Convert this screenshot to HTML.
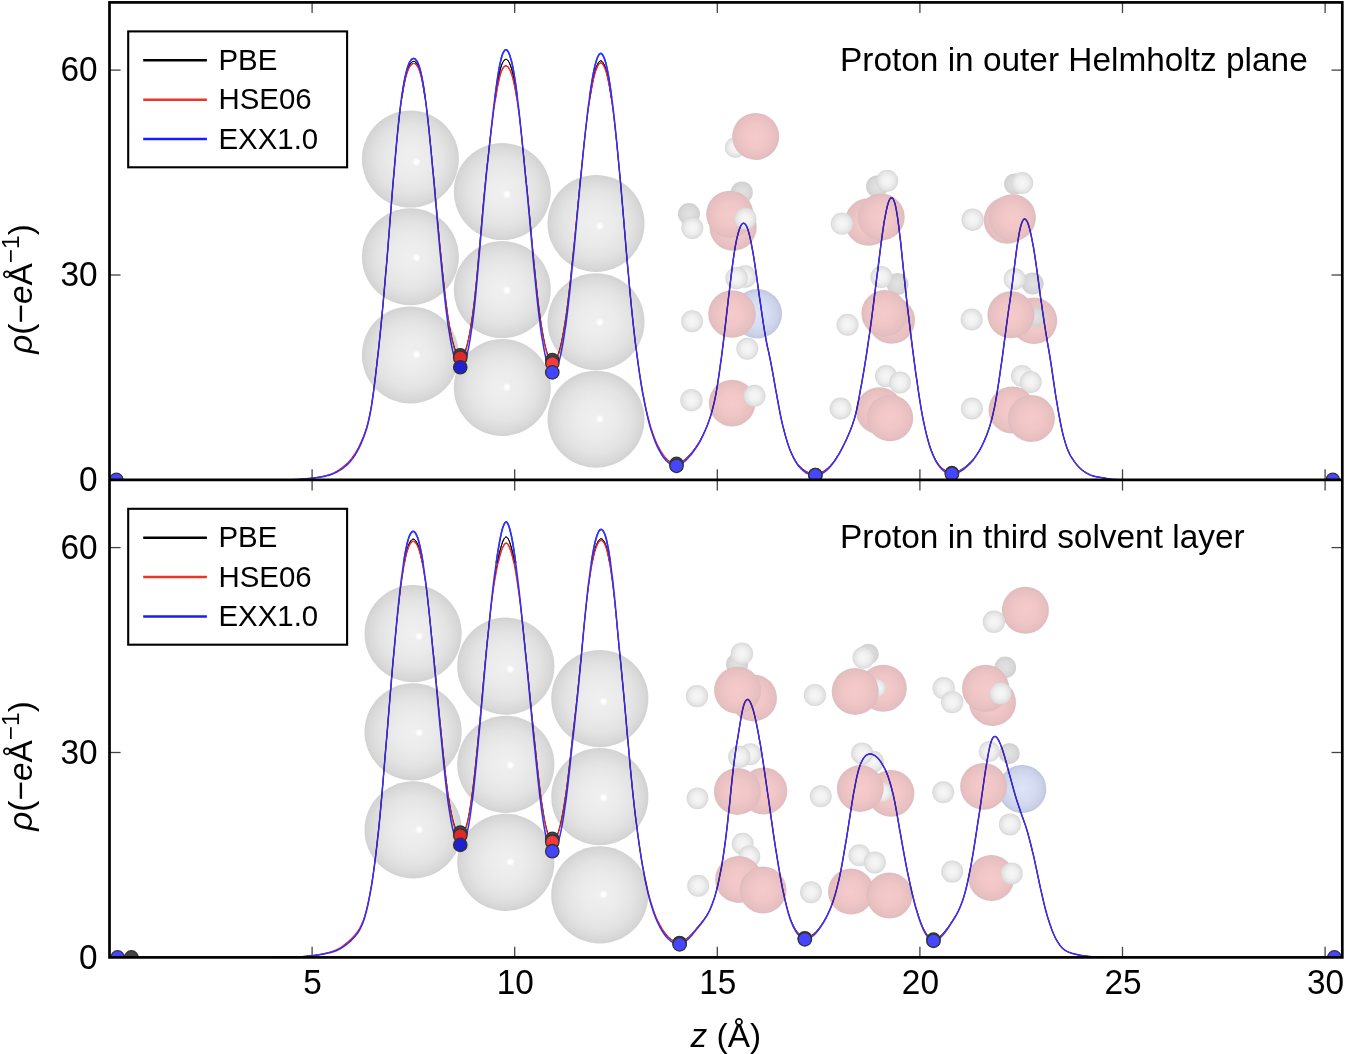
<!DOCTYPE html>
<html><head><meta charset="utf-8"><style>
html,body{margin:0;padding:0;background:#fff;overflow:hidden;}
svg{display:block;will-change:transform;}
text{font-family:"Liberation Sans",sans-serif;fill:#000;}
.mb{mix-blend-mode:multiply;}
</style></head><body>
<svg width="1345" height="1054" viewBox="0 0 1345 1054">
<defs>
<radialGradient id="gM" cx="0.5" cy="0.5" r="0.5">
<stop offset="0" stop-color="#f0f0f1"/>
<stop offset="0.4" stop-color="#ebebec"/>
<stop offset="0.7" stop-color="#e3e3e4"/>
<stop offset="0.9" stop-color="#d9d9da"/>
<stop offset="1" stop-color="#d2d2d3"/>
</radialGradient>
<radialGradient id="gHL" cx="0.5" cy="0.5" r="0.5">
<stop offset="0" stop-color="#ffffff"/>
<stop offset="0.4" stop-color="#ffffff" stop-opacity="0.95"/>
<stop offset="1" stop-color="#ffffff" stop-opacity="0"/>
</radialGradient>
<radialGradient id="gO" cx="0.5" cy="0.5" r="0.5">
<stop offset="0" stop-color="#f5caca"/>
<stop offset="0.5" stop-color="#f0c6c6"/>
<stop offset="0.85" stop-color="#e8c0c1"/>
<stop offset="1" stop-color="#dfbcbe"/>
</radialGradient>
<radialGradient id="gH" cx="0.5" cy="0.5" r="0.5">
<stop offset="0" stop-color="#f7f7f7"/>
<stop offset="0.5" stop-color="#f0f0f0"/>
<stop offset="0.85" stop-color="#e2e2e2"/>
<stop offset="1" stop-color="#d6d6d6"/>
</radialGradient>
<radialGradient id="gHs" cx="0.5" cy="0.5" r="0.5">
<stop offset="0" stop-color="#e2e2e2"/>
<stop offset="0.6" stop-color="#dadada"/>
<stop offset="1" stop-color="#d0d0d0"/>
</radialGradient>
<radialGradient id="gB" cx="0.5" cy="0.5" r="0.5">
<stop offset="0" stop-color="#dde4f8"/>
<stop offset="0.5" stop-color="#d6ddf2"/>
<stop offset="0.85" stop-color="#cbd1e8"/>
<stop offset="1" stop-color="#c0c6de"/>
</radialGradient>
<clipPath id="cTop"><rect x="109.5" y="2.4" width="1232.8" height="477.5"/></clipPath>
<clipPath id="cBot"><rect x="109.5" y="479.9" width="1232.8" height="477.5"/></clipPath>
<clipPath id="cTopHi"><rect x="109.5" y="2.4" width="1232.8" height="95.6"/></clipPath>
<clipPath id="cBotHi"><rect x="109.5" y="479.9" width="1232.8" height="83.10000000000002"/></clipPath>
</defs>

<g clip-path="url(#cTop)">
<path id="ptopblack" d="M109.5,479.9 271.6,479.9 272.4,479.8 273.2,479.8 274.0,479.8 274.8,479.8 275.6,479.8 276.4,479.8 277.3,479.8 278.1,479.8 278.9,479.8 279.7,479.8 280.5,479.8 281.3,479.8 282.1,479.8 282.9,479.8 283.7,479.8 284.5,479.8 285.4,479.8 286.2,479.7 287.0,479.7 287.8,479.7 288.6,479.7 289.4,479.7 290.2,479.7 291.0,479.7 291.8,479.7 292.7,479.7 293.5,479.7 294.3,479.6 295.1,479.6 295.9,479.6 296.7,479.5 297.5,479.5 298.3,479.4 299.1,479.4 299.9,479.3 300.8,479.3 301.6,479.2 302.4,479.1 303.2,479.1 304.0,479.0 304.8,478.9 305.6,478.9 306.4,478.8 307.2,478.7 308.0,478.6 308.9,478.5 309.7,478.4 310.5,478.3 311.3,478.3 312.1,478.2 312.9,478.1 313.7,478.0 314.5,477.9 315.3,477.8 316.2,477.7 317.0,477.5 317.8,477.4 318.6,477.3 319.4,477.1 320.2,477.0 321.0,476.8 321.8,476.7 322.6,476.5 323.4,476.4 324.3,476.2 325.1,476.0 325.9,475.8 326.7,475.6 327.5,475.4 328.3,475.1 329.1,474.9 329.9,474.6 330.7,474.4 331.5,474.0 332.4,473.7 333.2,473.4 334.0,473.0 334.8,472.6 335.6,472.2 336.4,471.7 337.2,471.3 338.0,470.8 338.8,470.3 339.7,469.8 340.5,469.2 341.3,468.7 342.1,468.1 342.9,467.5 343.7,466.8 344.5,466.2 345.3,465.5 346.1,464.8 346.9,464.0 347.8,463.2 348.6,462.4 349.4,461.5 350.2,460.6 351.0,459.6 351.8,458.6 352.6,457.6 353.4,456.4 354.2,455.3 355.1,454.0 355.9,452.7 356.7,451.3 357.5,449.9 358.3,448.4 359.1,446.8 359.9,445.1 360.7,443.4 361.5,441.5 362.3,439.6 363.2,437.6 364.0,435.5 364.8,433.3 365.6,431.0 366.4,428.5 367.2,425.8 368.0,422.8 368.8,419.5 369.6,415.7 370.4,411.5 371.3,406.8 372.1,401.7 372.9,396.1 373.7,390.2 374.5,383.9 375.3,377.4 376.1,370.6 376.9,363.5 377.7,356.3 378.6,348.8 379.4,341.2 380.2,333.4 381.0,325.3 381.8,317.1 382.6,308.6 383.4,299.9 384.2,290.9 385.0,281.7 385.8,272.3 386.7,262.6 387.5,252.7 388.3,242.7 389.1,232.6 389.9,222.5 390.7,212.3 391.5,202.2 392.3,192.2 393.1,182.4 394.0,172.7 394.8,163.2 395.6,154.0 396.4,145.1 397.2,136.6 398.0,128.5 398.8,120.9 399.6,113.7 400.4,107.1 401.2,101.1 402.1,95.5 402.9,90.4 403.7,85.8 404.5,81.7 405.3,78.0 406.1,74.7 406.9,71.8 407.7,69.4 408.5,67.3 409.3,65.5 410.2,64.1 411.0,63.0 411.8,62.2 412.6,61.7 413.4,61.4 414.2,61.4 415.0,61.7 415.8,62.3 416.6,63.2 417.5,64.5 418.3,66.1 419.1,68.1 419.9,70.5 420.7,73.3 421.5,76.6 422.3,80.4 423.1,84.6 423.9,89.3 424.7,94.6 425.6,100.3 426.4,106.5 427.2,113.2 428.0,120.2 428.8,127.5 429.6,135.2 430.4,143.1 431.2,151.3 432.0,159.7 432.8,168.3 433.7,177.0 434.5,185.8 435.3,194.7 436.1,203.6 436.9,212.5 437.7,221.3 438.5,230.1 439.3,238.8 440.1,247.3 441.0,255.6 441.8,263.7 442.6,271.6 443.4,279.1 444.2,286.4 445.0,293.3 445.8,300.0 446.6,306.2 447.4,312.1 448.2,317.7 449.1,322.8 449.9,327.6 450.7,332.0 451.5,335.9 452.3,339.5 453.1,342.7 453.9,345.5 454.7,348.0 455.5,350.3 456.4,352.1 457.2,353.7 458.0,354.9 458.8,355.8 459.6,356.4 460.4,356.6 461.2,356.5 462.0,356.0 462.8,355.1 463.6,353.9 464.5,352.3 465.3,350.4 466.1,348.0 466.9,345.3 467.7,342.1 468.5,338.5 469.3,334.6 470.1,330.2 470.9,325.3 471.7,320.1 472.6,314.3 473.4,308.1 474.2,301.5 475.0,294.4 475.8,286.7 476.6,278.6 477.4,270.1 478.2,261.1 479.0,252.0 479.9,242.7 480.7,233.3 481.5,224.1 482.3,214.9 483.1,206.0 483.9,197.3 484.7,188.9 485.5,180.8 486.3,172.9 487.1,165.2 488.0,157.8 488.8,150.5 489.6,143.3 490.4,136.3 491.2,129.4 492.0,122.7 492.8,116.1 493.6,109.7 494.4,103.6 495.3,97.7 496.1,92.1 496.9,87.0 497.7,82.1 498.5,77.8 499.3,73.8 500.1,70.3 500.9,67.4 501.7,64.9 502.5,62.9 503.4,61.4 504.2,60.2 505.0,59.6 505.8,59.3 506.6,59.4 507.4,59.9 508.2,60.9 509.0,62.2 509.8,63.9 510.6,66.0 511.5,68.5 512.3,71.5 513.1,74.9 513.9,78.6 514.7,82.9 515.5,87.5 516.3,92.6 517.1,98.2 517.9,104.2 518.8,110.6 519.6,117.4 520.4,124.5 521.2,131.9 522.0,139.5 522.8,147.3 523.6,155.2 524.4,163.2 525.2,171.2 526.0,179.2 526.9,187.2 527.7,195.4 528.5,203.6 529.3,212.0 530.1,220.6 530.9,229.2 531.7,237.9 532.5,246.5 533.3,255.1 534.1,263.6 535.0,271.8 535.8,279.7 536.6,287.3 537.4,294.5 538.2,301.4 539.0,307.9 539.8,314.1 540.6,319.8 541.4,325.2 542.3,330.3 543.1,334.9 543.9,339.2 544.7,343.1 545.5,346.6 546.3,349.7 547.1,352.5 547.9,354.8 548.7,356.9 549.5,358.5 550.4,359.8 551.2,360.7 552.0,361.3 552.8,361.5 553.6,361.3 554.4,360.8 555.2,360.0 556.0,358.8 556.8,357.2 557.7,355.3 558.5,353.0 559.3,350.4 560.1,347.5 560.9,344.2 561.7,340.5 562.5,336.5 563.3,332.2 564.1,327.5 564.9,322.4 565.8,317.0 566.6,311.3 567.4,305.2 568.2,298.7 569.0,292.0 569.8,285.0 570.6,277.7 571.4,270.2 572.2,262.5 573.0,254.6 573.9,246.6 574.7,238.4 575.5,230.1 576.3,221.8 577.1,213.4 577.9,205.0 578.7,196.6 579.5,188.3 580.3,180.0 581.2,171.8 582.0,163.7 582.8,155.9 583.6,148.1 584.4,140.7 585.2,133.4 586.0,126.4 586.8,119.8 587.6,113.4 588.4,107.4 589.3,101.6 590.1,96.3 590.9,91.2 591.7,86.6 592.5,82.3 593.3,78.4 594.1,74.8 594.9,71.7 595.7,68.9 596.6,66.6 597.4,64.6 598.2,63.0 599.0,61.9 599.8,61.1 600.6,60.8 601.4,61.0 602.2,61.6 603.0,62.6 603.8,64.0 604.7,65.9 605.5,68.2 606.3,70.9 607.1,74.0 607.9,77.6 608.7,81.6 609.5,86.0 610.3,90.8 611.1,96.1 611.9,101.7 612.8,107.8 613.6,114.3 614.4,121.2 615.2,128.4 616.0,135.9 616.8,143.8 617.6,151.9 618.4,160.4 619.2,169.0 620.1,177.9 620.9,187.0 621.7,196.2 622.5,205.6 623.3,215.1 624.1,224.7 624.9,234.3 625.7,243.9 626.5,253.5 627.3,262.9 628.2,272.1 629.0,281.2 629.8,290.0 630.6,298.5 631.4,306.7 632.2,314.6 633.0,322.2 633.8,329.5 634.6,336.6 635.4,343.4 636.3,349.9 637.1,356.1 637.9,362.1 638.7,367.9 639.5,373.4 640.3,378.7 641.1,383.7 641.9,388.5 642.7,393.1 643.6,397.5 644.4,401.7 645.2,405.7 646.0,409.4 646.8,413.0 647.6,416.5 648.4,419.7 649.2,422.8 650.0,425.7 650.8,428.5 651.7,431.1 652.5,433.5 653.3,435.8 654.1,438.0 654.9,440.1 655.7,442.1 656.5,443.9 657.3,445.6 658.1,447.2 659.0,448.8 659.8,450.2 660.6,451.6 661.4,452.9 662.2,454.1 663.0,455.2 663.8,456.3 664.6,457.3 665.4,458.2 666.2,459.0 667.1,459.8 667.9,460.5 668.7,461.1 669.5,461.6 670.3,462.1 671.1,462.5 671.9,462.8 672.7,463.1 673.5,463.3 674.3,463.4 675.2,463.4 676.0,463.4 676.8,463.3 677.6,463.2 678.4,463.0 679.2,462.7 680.0,462.4 680.8,462.0 681.6,461.6 682.5,461.1 683.3,460.5 684.1,459.9 684.9,459.3 685.7,458.6 686.5,457.9 687.3,457.1 688.1,456.3 688.9,455.5 689.7,454.6 690.6,453.7 691.4,452.8 692.2,451.9 693.0,450.9 693.8,449.9 694.6,448.8 695.4,447.7 696.2,446.6 697.0,445.4 697.9,444.1 698.7,442.8 699.5,441.5 700.3,440.1 701.1,438.6 701.9,437.1 702.7,435.5 703.5,433.9 704.3,432.1 705.1,430.3 706.0,428.4 706.8,426.5 707.6,424.4 708.4,422.3 709.2,420.1 710.0,417.7 710.8,415.2 711.6,412.5 712.4,409.5 713.2,406.3 714.1,402.9 714.9,399.1 715.7,395.0 716.5,390.6 717.3,385.8 718.1,380.7 718.9,375.4 719.7,369.7 720.5,363.9 721.4,357.8 722.2,351.5 723.0,345.0 723.8,338.4 724.6,331.7 725.4,324.9 726.2,317.9 727.0,310.9 727.8,303.9 728.6,296.8 729.5,289.9 730.3,283.0 731.1,276.3 731.9,269.8 732.7,263.7 733.5,257.9 734.3,252.5 735.1,247.6 735.9,243.1 736.7,239.1 737.6,235.6 738.4,232.5 739.2,229.8 740.0,227.6 740.8,225.9 741.6,224.5 742.4,223.7 743.2,223.3 744.0,223.3 744.9,223.8 745.7,224.8 746.5,226.1 747.3,228.0 748.1,230.2 748.9,233.0 749.7,236.1 750.5,239.7 751.3,243.7 752.1,248.0 753.0,252.7 753.8,257.6 754.6,262.8 755.4,268.1 756.2,273.7 757.0,279.3 757.8,285.1 758.6,290.9 759.4,296.7 760.3,302.4 761.1,308.1 761.9,313.7 762.7,319.2 763.5,324.5 764.3,329.6 765.1,334.4 765.9,338.9 766.7,343.1 767.5,347.1 768.4,350.9 769.2,354.7 770.0,358.5 770.8,362.4 771.6,366.6 772.4,370.9 773.2,375.3 774.0,379.8 774.8,384.4 775.6,389.1 776.5,393.7 777.3,398.2 778.1,402.7 778.9,407.0 779.7,411.2 780.5,415.2 781.3,419.0 782.1,422.7 782.9,426.1 783.8,429.4 784.6,432.5 785.4,435.5 786.2,438.3 787.0,440.9 787.8,443.4 788.6,445.7 789.4,448.0 790.2,450.0 791.0,452.0 791.9,453.8 792.7,455.5 793.5,457.1 794.3,458.6 795.1,460.0 795.9,461.3 796.7,462.5 797.5,463.6 798.3,464.6 799.2,465.6 800.0,466.5 800.8,467.3 801.6,468.0 802.4,468.7 803.2,469.3 804.0,469.9 804.8,470.5 805.6,471.0 806.4,471.4 807.3,471.9 808.1,472.2 808.9,472.6 809.7,472.9 810.5,473.1 811.3,473.3 812.1,473.5 812.9,473.6 813.7,473.7 814.5,473.7 815.4,473.7 816.2,473.6 817.0,473.5 817.8,473.4 818.6,473.2 819.4,473.0 820.2,472.7 821.0,472.4 821.8,472.1 822.7,471.6 823.5,471.2 824.3,470.7 825.1,470.2 825.9,469.6 826.7,468.9 827.5,468.3 828.3,467.5 829.1,466.8 829.9,465.9 830.8,465.1 831.6,464.1 832.4,463.2 833.2,462.2 834.0,461.1 834.8,460.0 835.6,458.8 836.4,457.6 837.2,456.4 838.0,455.1 838.9,453.8 839.7,452.4 840.5,451.0 841.3,449.5 842.1,448.0 842.9,446.4 843.7,444.8 844.5,443.2 845.3,441.5 846.2,439.8 847.0,438.1 847.8,436.3 848.6,434.4 849.4,432.5 850.2,430.6 851.0,428.6 851.8,426.5 852.6,424.2 853.4,421.7 854.3,419.1 855.1,416.2 855.9,413.0 856.7,409.5 857.5,405.7 858.3,401.6 859.1,397.4 859.9,392.9 860.7,388.4 861.6,383.8 862.4,379.2 863.2,374.6 864.0,369.9 864.8,365.0 865.6,360.1 866.4,354.9 867.2,349.6 868.0,344.1 868.8,338.5 869.7,332.8 870.5,326.9 871.3,320.9 872.1,314.8 872.9,308.6 873.7,302.3 874.5,295.9 875.3,289.5 876.1,283.0 876.9,276.5 877.8,270.0 878.6,263.4 879.4,256.9 880.2,250.5 881.0,244.2 881.8,238.1 882.6,232.3 883.4,226.8 884.2,221.6 885.1,216.9 885.9,212.6 886.7,208.8 887.5,205.5 888.3,202.8 889.1,200.6 889.9,199.0 890.7,198.0 891.5,197.7 892.3,198.0 893.2,199.0 894.0,200.7 894.8,203.1 895.6,206.3 896.4,210.3 897.2,215.0 898.0,220.6 898.8,226.8 899.6,233.6 900.5,240.9 901.3,248.5 902.1,256.4 902.9,264.3 903.7,272.1 904.5,279.9 905.3,287.4 906.1,294.8 906.9,302.1 907.7,309.1 908.6,316.1 909.4,322.9 910.2,329.6 911.0,336.1 911.8,342.6 912.6,348.9 913.4,355.1 914.2,361.3 915.0,367.3 915.8,373.3 916.7,379.1 917.5,384.8 918.3,390.3 919.1,395.7 919.9,400.8 920.7,405.8 921.5,410.5 922.3,414.9 923.1,419.2 924.0,423.2 924.8,426.9 925.6,430.5 926.4,433.9 927.2,437.0 928.0,440.0 928.8,442.7 929.6,445.3 930.4,447.8 931.2,450.0 932.1,452.1 932.9,454.1 933.7,455.9 934.5,457.6 935.3,459.1 936.1,460.5 936.9,461.8 937.7,463.1 938.5,464.2 939.3,465.2 940.2,466.1 941.0,467.0 941.8,467.8 942.6,468.5 943.4,469.1 944.2,469.7 945.0,470.2 945.8,470.7 946.6,471.1 947.5,471.4 948.3,471.7 949.1,471.9 949.9,472.1 950.7,472.2 951.5,472.3 952.3,472.3 953.1,472.2 953.9,472.2 954.7,472.0 955.6,471.9 956.4,471.6 957.2,471.4 958.0,471.1 958.8,470.7 959.6,470.4 960.4,469.9 961.2,469.5 962.0,469.0 962.9,468.5 963.7,467.9 964.5,467.3 965.3,466.7 966.1,466.1 966.9,465.4 967.7,464.7 968.5,464.0 969.3,463.2 970.1,462.5 971.0,461.6 971.8,460.8 972.6,459.9 973.4,458.9 974.2,457.9 975.0,456.9 975.8,455.8 976.6,454.7 977.4,453.5 978.2,452.2 979.1,450.9 979.9,449.5 980.7,448.0 981.5,446.5 982.3,444.9 983.1,443.2 983.9,441.5 984.7,439.6 985.5,437.7 986.4,435.7 987.2,433.6 988.0,431.4 988.8,429.1 989.6,426.6 990.4,424.0 991.2,421.2 992.0,418.1 992.8,414.7 993.6,411.1 994.5,407.2 995.3,403.0 996.1,398.5 996.9,393.8 997.7,388.8 998.5,383.7 999.3,378.3 1000.1,372.7 1000.9,367.0 1001.8,361.1 1002.6,355.1 1003.4,349.1 1004.2,342.9 1005.0,336.8 1005.8,330.6 1006.6,324.6 1007.4,318.6 1008.2,312.8 1009.0,307.0 1009.9,301.3 1010.7,295.6 1011.5,289.7 1012.3,283.6 1013.1,277.3 1013.9,270.9 1014.7,264.5 1015.5,258.1 1016.3,251.9 1017.1,246.0 1018.0,240.5 1018.8,235.5 1019.6,231.2 1020.4,227.5 1021.2,224.5 1022.0,222.2 1022.8,220.5 1023.6,219.5 1024.4,219.0 1025.3,219.2 1026.1,219.9 1026.9,221.1 1027.7,222.8 1028.5,225.0 1029.3,227.6 1030.1,230.7 1030.9,234.2 1031.7,238.1 1032.5,242.3 1033.4,246.9 1034.2,251.8 1035.0,256.9 1035.8,262.3 1036.6,268.0 1037.4,273.8 1038.2,279.7 1039.0,285.7 1039.8,291.7 1040.6,297.6 1041.5,303.5 1042.3,309.3 1043.1,314.9 1043.9,320.2 1044.7,325.4 1045.5,330.5 1046.3,335.4 1047.1,340.3 1047.9,345.1 1048.8,350.0 1049.6,354.9 1050.4,359.9 1051.2,365.1 1052.0,370.4 1052.8,375.9 1053.6,381.4 1054.4,386.9 1055.2,392.3 1056.0,397.5 1056.9,402.6 1057.7,407.5 1058.5,412.1 1059.3,416.6 1060.1,420.9 1060.9,424.9 1061.7,428.8 1062.5,432.4 1063.3,435.8 1064.2,438.9 1065.0,441.8 1065.8,444.4 1066.6,446.8 1067.4,449.0 1068.2,450.9 1069.0,452.7 1069.8,454.3 1070.6,455.8 1071.4,457.2 1072.3,458.5 1073.1,459.7 1073.9,460.9 1074.7,462.0 1075.5,463.1 1076.3,464.1 1077.1,465.1 1077.9,466.0 1078.7,466.9 1079.5,467.7 1080.4,468.5 1081.2,469.3 1082.0,470.0 1082.8,470.6 1083.6,471.2 1084.4,471.7 1085.2,472.2 1086.0,472.8 1086.8,473.2 1087.7,473.7 1088.5,474.1 1089.3,474.5 1090.1,474.9 1090.9,475.3 1091.7,475.5 1092.5,475.8 1093.3,476.0 1094.1,476.2 1094.9,476.4 1095.8,476.6 1096.6,476.8 1097.4,476.9 1098.2,477.1 1099.0,477.2 1099.8,477.3 1100.6,477.5 1101.4,477.6 1102.2,477.7 1103.1,477.9 1103.9,478.0 1104.7,478.1 1105.5,478.3 1106.3,478.4 1107.1,478.6 1107.9,478.7 1108.7,478.9 1109.5,479.0 1110.3,479.1 1111.2,479.3 1112.0,479.4 1112.8,479.4 1113.6,479.5 1114.4,479.6 1115.2,479.6 1116.0,479.6 1116.8,479.6 1117.6,479.7 1118.4,479.7 1119.3,479.7 1120.1,479.7 1120.9,479.8 1121.7,479.8 1122.5,479.8 1123.3,479.8 1124.1,479.8 1124.9,479.9 1125.7,479.9 1126.6,479.9 1127.4,479.9 1128.2,479.9 1129.0,479.9 1129.8,479.9 1130.6,479.9 1131.4,479.9 1132.2,479.9 1133.0,479.9 1133.8,479.9 1134.7,479.9 1135.5,479.9 1136.3,479.9 1137.1,479.9 1137.9,479.9 1138.7,479.9 1139.5,479.9 1140.3,479.9 1141.1,479.9 1141.9,479.9 1345.4,479.9" fill="none" stroke="#000000" stroke-width="1.0" stroke-linejoin="round"/>
<path id="ptopred" d="M109.5,479.9 271.6,479.9 272.4,479.8 273.2,479.8 274.0,479.8 274.8,479.8 275.6,479.8 276.4,479.8 277.3,479.8 278.1,479.8 278.9,479.8 279.7,479.8 280.5,479.8 281.3,479.8 282.1,479.8 282.9,479.8 283.7,479.8 284.5,479.8 285.4,479.8 286.2,479.7 287.0,479.7 287.8,479.7 288.6,479.7 289.4,479.7 290.2,479.7 291.0,479.7 291.8,479.7 292.7,479.7 293.5,479.7 294.3,479.6 295.1,479.6 295.9,479.6 296.7,479.5 297.5,479.5 298.3,479.4 299.1,479.4 299.9,479.3 300.8,479.3 301.6,479.2 302.4,479.1 303.2,479.1 304.0,479.0 304.8,478.9 305.6,478.8 306.4,478.8 307.2,478.7 308.0,478.6 308.9,478.5 309.7,478.4 310.5,478.3 311.3,478.2 312.1,478.1 312.9,478.0 313.7,477.9 314.5,477.8 315.3,477.7 316.2,477.6 317.0,477.5 317.8,477.3 318.6,477.2 319.4,477.1 320.2,476.9 321.0,476.7 321.8,476.6 322.6,476.4 323.4,476.2 324.3,476.0 325.1,475.8 325.9,475.6 326.7,475.4 327.5,475.2 328.3,474.9 329.1,474.7 329.9,474.4 330.7,474.1 331.5,473.8 332.4,473.4 333.2,473.1 334.0,472.7 334.8,472.2 335.6,471.8 336.4,471.4 337.2,470.9 338.0,470.4 338.8,469.9 339.7,469.3 340.5,468.8 341.3,468.2 342.1,467.6 342.9,467.0 343.7,466.3 344.5,465.6 345.3,464.9 346.1,464.2 346.9,463.4 347.8,462.6 348.6,461.8 349.4,460.9 350.2,460.0 351.0,459.0 351.8,458.0 352.6,456.9 353.4,455.8 354.2,454.6 355.1,453.3 355.9,452.0 356.7,450.7 357.5,449.2 358.3,447.7 359.1,446.1 359.9,444.4 360.7,442.7 361.5,440.9 362.3,439.0 363.2,436.9 364.0,434.8 364.8,432.7 365.6,430.4 366.4,427.9 367.2,425.2 368.0,422.2 368.8,418.9 369.6,415.2 370.4,411.0 371.3,406.3 372.1,401.2 372.9,395.7 373.7,389.8 374.5,383.5 375.3,377.0 376.1,370.2 376.9,363.1 377.7,355.9 378.6,348.5 379.4,340.9 380.2,333.1 381.0,325.1 381.8,316.8 382.6,308.3 383.4,299.6 384.2,290.7 385.0,281.5 385.8,272.1 386.7,262.4 387.5,252.6 388.3,242.6 389.1,232.5 389.9,222.4 390.7,212.3 391.5,202.2 392.3,192.2 393.1,182.4 394.0,172.7 394.8,163.3 395.6,154.1 396.4,145.3 397.2,136.9 398.0,128.8 398.8,121.3 399.6,114.2 400.4,107.7 401.2,101.7 402.1,96.3 402.9,91.3 403.7,86.8 404.5,82.8 405.3,79.2 406.1,76.1 406.9,73.3 407.7,71.0 408.5,69.0 409.3,67.3 410.2,66.0 411.0,65.0 411.8,64.2 412.6,63.7 413.4,63.5 414.2,63.5 415.0,63.7 415.8,64.3 416.6,65.1 417.5,66.3 418.3,67.8 419.1,69.7 419.9,72.0 420.7,74.8 421.5,77.9 422.3,81.6 423.1,85.7 423.9,90.3 424.7,95.5 425.6,101.1 426.4,107.3 427.2,113.8 428.0,120.8 428.8,128.1 429.6,135.7 430.4,143.7 431.2,151.9 432.0,160.3 432.8,168.8 433.7,177.6 434.5,186.4 435.3,195.3 436.1,204.2 436.9,213.1 437.7,222.0 438.5,230.8 439.3,239.5 440.1,248.1 441.0,256.4 441.8,264.6 442.6,272.5 443.4,280.1 444.2,287.4 445.0,294.4 445.8,301.1 446.6,307.4 447.4,313.4 448.2,319.0 449.1,324.2 449.9,329.0 450.7,333.4 451.5,337.4 452.3,341.0 453.1,344.2 453.9,347.1 454.7,349.6 455.5,351.9 456.4,353.8 457.2,355.4 458.0,356.6 458.8,357.5 459.6,358.1 460.4,358.3 461.2,358.2 462.0,357.7 462.8,356.8 463.6,355.6 464.5,354.0 465.3,352.0 466.1,349.6 466.9,346.8 467.7,343.6 468.5,340.0 469.3,336.0 470.1,331.6 470.9,326.7 471.7,321.4 472.6,315.6 473.4,309.4 474.2,302.7 475.0,295.5 475.8,287.8 476.6,279.7 477.4,271.0 478.2,262.1 479.0,252.9 479.9,243.5 480.7,234.2 481.5,224.9 482.3,215.7 483.1,206.8 483.9,198.1 484.7,189.7 485.5,181.6 486.3,173.7 487.1,166.1 488.0,158.7 488.8,151.5 489.6,144.5 490.4,137.6 491.2,130.9 492.0,124.4 492.8,118.1 493.6,111.9 494.4,106.1 495.3,100.6 496.1,95.4 496.9,90.5 497.7,86.1 498.5,82.1 499.3,78.5 500.1,75.4 500.9,72.8 501.7,70.6 502.5,68.9 503.4,67.6 504.2,66.6 505.0,66.1 505.8,65.8 506.6,65.9 507.4,66.4 508.2,67.2 509.0,68.3 509.8,69.8 510.6,71.6 511.5,73.8 512.3,76.4 513.1,79.4 513.9,82.8 514.7,86.6 515.5,90.9 516.3,95.7 517.1,100.9 517.9,106.6 518.8,112.7 519.6,119.2 520.4,126.1 521.2,133.3 522.0,140.7 522.8,148.4 523.6,156.2 524.4,164.1 525.2,172.0 526.0,180.0 526.9,188.0 527.7,196.1 528.5,204.4 529.3,212.8 530.1,221.4 530.9,230.0 531.7,238.7 532.5,247.4 533.3,256.1 534.1,264.6 535.0,272.9 535.8,280.8 536.6,288.5 537.4,295.8 538.2,302.7 539.0,309.2 539.8,315.4 540.6,321.3 541.4,326.7 542.3,331.8 543.1,336.5 543.9,340.8 544.7,344.7 545.5,348.3 546.3,351.4 547.1,354.2 547.9,356.6 548.7,358.7 549.5,360.3 550.4,361.6 551.2,362.6 552.0,363.1 552.8,363.3 553.6,363.2 554.4,362.7 555.2,361.8 556.0,360.6 556.8,359.0 557.7,357.0 558.5,354.8 559.3,352.1 560.1,349.1 560.9,345.8 561.7,342.1 562.5,338.0 563.3,333.6 564.1,328.9 564.9,323.8 565.8,318.3 566.6,312.5 567.4,306.4 568.2,299.9 569.0,293.1 569.8,286.0 570.6,278.7 571.4,271.1 572.2,263.4 573.0,255.4 573.9,247.3 574.7,239.1 575.5,230.8 576.3,222.4 577.1,214.0 577.9,205.6 578.7,197.2 579.5,188.8 580.3,180.5 581.2,172.3 582.0,164.2 582.8,156.4 583.6,148.7 584.4,141.2 585.2,134.0 586.0,127.1 586.8,120.5 587.6,114.2 588.4,108.2 589.3,102.6 590.1,97.3 590.9,92.4 591.7,87.8 592.5,83.7 593.3,79.9 594.1,76.4 594.9,73.4 595.7,70.7 596.6,68.4 597.4,66.5 598.2,65.0 599.0,63.9 599.8,63.2 600.6,62.9 601.4,63.0 602.2,63.6 603.0,64.5 603.8,65.9 604.7,67.7 605.5,69.8 606.3,72.4 607.1,75.5 607.9,78.9 608.7,82.7 609.5,87.0 610.3,91.7 611.1,96.9 611.9,102.4 612.8,108.4 613.6,114.8 614.4,121.6 615.2,128.7 616.0,136.2 616.8,144.0 617.6,152.1 618.4,160.4 619.2,169.0 620.1,177.9 620.9,186.9 621.7,196.1 622.5,205.5 623.3,215.0 624.1,224.5 624.9,234.1 625.7,243.7 626.5,253.2 627.3,262.5 628.2,271.8 629.0,280.8 629.8,289.5 630.6,298.0 631.4,306.2 632.2,314.1 633.0,321.6 633.8,328.9 634.6,335.9 635.4,342.7 636.3,349.2 637.1,355.4 637.9,361.3 638.7,367.0 639.5,372.5 640.3,377.7 641.1,382.7 641.9,387.5 642.7,392.1 643.6,396.4 644.4,400.5 645.2,404.5 646.0,408.3 646.8,411.8 647.6,415.2 648.4,418.4 649.2,421.5 650.0,424.4 650.8,427.1 651.7,429.7 652.5,432.2 653.3,434.5 654.1,436.7 654.9,438.8 655.7,440.8 656.5,442.6 657.3,444.4 658.1,446.1 659.0,447.6 659.8,449.1 660.6,450.5 661.4,451.9 662.2,453.1 663.0,454.3 663.8,455.4 664.6,456.5 665.4,457.5 666.2,458.3 667.1,459.2 667.9,459.9 668.7,460.6 669.5,461.2 670.3,461.7 671.1,462.2 671.9,462.6 672.7,462.9 673.5,463.1 674.3,463.3 675.2,463.4 676.0,463.4 676.8,463.4 677.6,463.3 678.4,463.1 679.2,462.9 680.0,462.6 680.8,462.2 681.6,461.8 682.5,461.3 683.3,460.8 684.1,460.2 684.9,459.5 685.7,458.9 686.5,458.1 687.3,457.4 688.1,456.6 688.9,455.7 689.7,454.8 690.6,453.9 691.4,453.0 692.2,452.0 693.0,451.0 693.8,450.0 694.6,448.9 695.4,447.8 696.2,446.6 697.0,445.4 697.9,444.2 698.7,442.9 699.5,441.5 700.3,440.1 701.1,438.6 701.9,437.1 702.7,435.5 703.5,433.8 704.3,432.0 705.1,430.2 706.0,428.3 706.8,426.4 707.6,424.3 708.4,422.2 709.2,420.0 710.0,417.6 710.8,415.1 711.6,412.3 712.4,409.4 713.2,406.2 714.1,402.8 714.9,399.0 715.7,394.9 716.5,390.5 717.3,385.7 718.1,380.6 718.9,375.3 719.7,369.7 720.5,363.8 721.4,357.7 722.2,351.4 723.0,345.0 723.8,338.4 724.6,331.6 725.4,324.8 726.2,317.9 727.0,310.9 727.8,303.9 728.6,296.8 729.5,289.8 730.3,282.9 731.1,276.2 731.9,269.8 732.7,263.6 733.5,257.8 734.3,252.5 735.1,247.6 735.9,243.1 736.7,239.1 737.6,235.6 738.4,232.5 739.2,229.8 740.0,227.6 740.8,225.8 741.6,224.5 742.4,223.7 743.2,223.3 744.0,223.3 744.9,223.8 745.7,224.8 746.5,226.1 747.3,228.0 748.1,230.2 748.9,233.0 749.7,236.1 750.5,239.7 751.3,243.7 752.1,248.0 753.0,252.7 753.8,257.6 754.6,262.8 755.4,268.1 756.2,273.7 757.0,279.3 757.8,285.1 758.6,290.9 759.4,296.7 760.3,302.4 761.1,308.1 761.9,313.7 762.7,319.2 763.5,324.5 764.3,329.6 765.1,334.4 765.9,338.9 766.7,343.1 767.5,347.1 768.4,350.9 769.2,354.7 770.0,358.5 770.8,362.4 771.6,366.6 772.4,370.9 773.2,375.3 774.0,379.9 774.8,384.5 775.6,389.1 776.5,393.7 777.3,398.3 778.1,402.7 778.9,407.1 779.7,411.3 780.5,415.3 781.3,419.1 782.1,422.8 782.9,426.2 783.8,429.5 784.6,432.6 785.4,435.6 786.2,438.4 787.0,441.1 787.8,443.6 788.6,445.9 789.4,448.2 790.2,450.3 791.0,452.2 791.9,454.1 792.7,455.8 793.5,457.4 794.3,458.9 795.1,460.3 795.9,461.7 796.7,462.9 797.5,464.0 798.3,465.1 799.2,466.0 800.0,466.9 800.8,467.7 801.6,468.5 802.4,469.2 803.2,469.9 804.0,470.5 804.8,471.1 805.6,471.6 806.4,472.1 807.3,472.5 808.1,472.9 808.9,473.2 809.7,473.5 810.5,473.8 811.3,474.0 812.1,474.1 812.9,474.3 813.7,474.3 814.5,474.4 815.4,474.4 816.2,474.3 817.0,474.2 817.8,474.1 818.6,473.9 819.4,473.6 820.2,473.4 821.0,473.0 821.8,472.7 822.7,472.3 823.5,471.8 824.3,471.3 825.1,470.7 825.9,470.1 826.7,469.5 827.5,468.8 828.3,468.0 829.1,467.2 829.9,466.4 830.8,465.5 831.6,464.5 832.4,463.5 833.2,462.5 834.0,461.4 834.8,460.3 835.6,459.1 836.4,457.9 837.2,456.6 838.0,455.3 838.9,454.0 839.7,452.6 840.5,451.2 841.3,449.7 842.1,448.1 842.9,446.6 843.7,445.0 844.5,443.3 845.3,441.6 846.2,439.9 847.0,438.1 847.8,436.3 848.6,434.5 849.4,432.6 850.2,430.7 851.0,428.7 851.8,426.5 852.6,424.2 853.4,421.8 854.3,419.1 855.1,416.2 855.9,413.0 856.7,409.5 857.5,405.7 858.3,401.7 859.1,397.4 859.9,392.9 860.7,388.4 861.6,383.8 862.4,379.2 863.2,374.6 864.0,369.9 864.8,365.0 865.6,360.1 866.4,354.9 867.2,349.6 868.0,344.1 868.8,338.5 869.7,332.8 870.5,326.9 871.3,320.9 872.1,314.8 872.9,308.6 873.7,302.3 874.5,295.9 875.3,289.5 876.1,283.0 876.9,276.5 877.8,270.0 878.6,263.4 879.4,256.9 880.2,250.5 881.0,244.2 881.8,238.1 882.6,232.3 883.4,226.8 884.2,221.6 885.1,216.9 885.9,212.6 886.7,208.8 887.5,205.5 888.3,202.8 889.1,200.6 889.9,199.0 890.7,198.0 891.5,197.7 892.3,198.0 893.2,199.0 894.0,200.7 894.8,203.1 895.6,206.3 896.4,210.3 897.2,215.0 898.0,220.6 898.8,226.8 899.6,233.7 900.5,240.9 901.3,248.5 902.1,256.4 902.9,264.3 903.7,272.1 904.5,279.9 905.3,287.4 906.1,294.8 906.9,302.1 907.7,309.2 908.6,316.1 909.4,322.9 910.2,329.6 911.0,336.2 911.8,342.6 912.6,348.9 913.4,355.2 914.2,361.3 915.0,367.4 915.8,373.3 916.7,379.2 917.5,384.9 918.3,390.4 919.1,395.8 919.9,400.9 920.7,405.9 921.5,410.6 922.3,415.1 923.1,419.3 924.0,423.3 924.8,427.1 925.6,430.7 926.4,434.1 927.2,437.2 928.0,440.2 928.8,443.0 929.6,445.6 930.4,448.0 931.2,450.3 932.1,452.4 932.9,454.4 933.7,456.2 934.5,457.9 935.3,459.5 936.1,460.9 936.9,462.3 937.7,463.5 938.5,464.6 939.3,465.7 940.2,466.6 941.0,467.5 941.8,468.3 942.6,469.1 943.4,469.7 944.2,470.3 945.0,470.9 945.8,471.3 946.6,471.7 947.5,472.1 948.3,472.4 949.1,472.6 949.9,472.8 950.7,472.9 951.5,473.0 952.3,473.0 953.1,472.9 953.9,472.8 954.7,472.7 955.6,472.5 956.4,472.3 957.2,472.0 958.0,471.7 958.8,471.4 959.6,471.0 960.4,470.5 961.2,470.1 962.0,469.6 962.9,469.0 963.7,468.5 964.5,467.9 965.3,467.2 966.1,466.6 966.9,465.9 967.7,465.1 968.5,464.4 969.3,463.6 970.1,462.8 971.0,462.0 971.8,461.1 972.6,460.2 973.4,459.2 974.2,458.2 975.0,457.2 975.8,456.1 976.6,454.9 977.4,453.7 978.2,452.4 979.1,451.1 979.9,449.7 980.7,448.2 981.5,446.6 982.3,445.0 983.1,443.3 983.9,441.6 984.7,439.7 985.5,437.8 986.4,435.8 987.2,433.6 988.0,431.4 988.8,429.1 989.6,426.7 990.4,424.0 991.2,421.2 992.0,418.1 992.8,414.8 993.6,411.1 994.5,407.2 995.3,403.0 996.1,398.5 996.9,393.8 997.7,388.8 998.5,383.7 999.3,378.3 1000.1,372.8 1000.9,367.0 1001.8,361.1 1002.6,355.1 1003.4,349.1 1004.2,342.9 1005.0,336.8 1005.8,330.7 1006.6,324.6 1007.4,318.6 1008.2,312.8 1009.0,307.0 1009.9,301.3 1010.7,295.6 1011.5,289.7 1012.3,283.6 1013.1,277.3 1013.9,270.9 1014.7,264.5 1015.5,258.1 1016.3,251.9 1017.1,246.0 1018.0,240.5 1018.8,235.5 1019.6,231.2 1020.4,227.5 1021.2,224.5 1022.0,222.2 1022.8,220.5 1023.6,219.5 1024.4,219.0 1025.3,219.2 1026.1,219.9 1026.9,221.1 1027.7,222.8 1028.5,225.0 1029.3,227.6 1030.1,230.7 1030.9,234.2 1031.7,238.1 1032.5,242.3 1033.4,246.9 1034.2,251.8 1035.0,256.9 1035.8,262.3 1036.6,268.0 1037.4,273.8 1038.2,279.7 1039.0,285.7 1039.8,291.7 1040.6,297.6 1041.5,303.5 1042.3,309.3 1043.1,314.9 1043.9,320.2 1044.7,325.4 1045.5,330.5 1046.3,335.4 1047.1,340.3 1047.9,345.1 1048.8,350.0 1049.6,354.9 1050.4,359.9 1051.2,365.1 1052.0,370.4 1052.8,375.9 1053.6,381.4 1054.4,386.9 1055.2,392.3 1056.0,397.5 1056.9,402.6 1057.7,407.5 1058.5,412.1 1059.3,416.6 1060.1,420.9 1060.9,424.9 1061.7,428.8 1062.5,432.4 1063.3,435.8 1064.2,438.9 1065.0,441.8 1065.8,444.4 1066.6,446.8 1067.4,449.0 1068.2,450.9 1069.0,452.7 1069.8,454.3 1070.6,455.8 1071.4,457.2 1072.3,458.5 1073.1,459.7 1073.9,460.9 1074.7,462.0 1075.5,463.1 1076.3,464.1 1077.1,465.1 1077.9,466.0 1078.7,466.9 1079.5,467.7 1080.4,468.5 1081.2,469.3 1082.0,470.0 1082.8,470.6 1083.6,471.2 1084.4,471.7 1085.2,472.2 1086.0,472.8 1086.8,473.2 1087.7,473.7 1088.5,474.1 1089.3,474.5 1090.1,474.9 1090.9,475.3 1091.7,475.5 1092.5,475.8 1093.3,476.0 1094.1,476.2 1094.9,476.4 1095.8,476.6 1096.6,476.8 1097.4,476.9 1098.2,477.1 1099.0,477.2 1099.8,477.3 1100.6,477.5 1101.4,477.6 1102.2,477.7 1103.1,477.9 1103.9,478.0 1104.7,478.1 1105.5,478.3 1106.3,478.4 1107.1,478.6 1107.9,478.7 1108.7,478.9 1109.5,479.0 1110.3,479.1 1111.2,479.3 1112.0,479.4 1112.8,479.4 1113.6,479.5 1114.4,479.6 1115.2,479.6 1116.0,479.6 1116.8,479.6 1117.6,479.7 1118.4,479.7 1119.3,479.7 1120.1,479.7 1120.9,479.8 1121.7,479.8 1122.5,479.8 1123.3,479.8 1124.1,479.8 1124.9,479.9 1125.7,479.9 1126.6,479.9 1127.4,479.9 1128.2,479.9 1129.0,479.9 1129.8,479.9 1130.6,479.9 1131.4,479.9 1132.2,479.9 1133.0,479.9 1133.8,479.9 1134.7,479.9 1135.5,479.9 1136.3,479.9 1137.1,479.9 1137.9,479.9 1138.7,479.9 1139.5,479.9 1140.3,479.9 1141.1,479.9 1141.9,479.9 1345.4,479.9" fill="none" stroke="#ee2a2a" stroke-width="1.2" stroke-linejoin="round"/>
<path id="ptopblue" d="M109.5,479.9 271.6,479.9 272.4,479.8 273.2,479.8 274.0,479.8 274.8,479.8 275.6,479.8 276.4,479.8 277.3,479.8 278.1,479.8 278.9,479.8 279.7,479.8 280.5,479.8 281.3,479.8 282.1,479.8 282.9,479.8 283.7,479.8 284.5,479.8 285.4,479.8 286.2,479.7 287.0,479.7 287.8,479.7 288.6,479.7 289.4,479.7 290.2,479.7 291.0,479.7 291.8,479.7 292.7,479.7 293.5,479.7 294.3,479.6 295.1,479.6 295.9,479.6 296.7,479.5 297.5,479.5 298.3,479.5 299.1,479.4 299.9,479.3 300.8,479.3 301.6,479.2 302.4,479.2 303.2,479.1 304.0,479.0 304.8,478.9 305.6,478.9 306.4,478.8 307.2,478.7 308.0,478.6 308.9,478.6 309.7,478.5 310.5,478.4 311.3,478.3 312.1,478.2 312.9,478.1 313.7,478.0 314.5,477.9 315.3,477.8 316.2,477.7 317.0,477.6 317.8,477.5 318.6,477.4 319.4,477.3 320.2,477.1 321.0,477.0 321.8,476.9 322.6,476.7 323.4,476.5 324.3,476.4 325.1,476.2 325.9,476.0 326.7,475.8 327.5,475.6 328.3,475.4 329.1,475.2 329.9,475.0 330.7,474.7 331.5,474.4 332.4,474.1 333.2,473.8 334.0,473.4 334.8,473.1 335.6,472.7 336.4,472.3 337.2,471.9 338.0,471.4 338.8,470.9 339.7,470.4 340.5,469.9 341.3,469.4 342.1,468.8 342.9,468.3 343.7,467.6 344.5,467.0 345.3,466.3 346.1,465.6 346.9,464.9 347.8,464.1 348.6,463.3 349.4,462.5 350.2,461.6 351.0,460.6 351.8,459.6 352.6,458.6 353.4,457.5 354.2,456.3 355.1,455.0 355.9,453.7 356.7,452.4 357.5,450.9 358.3,449.4 359.1,447.8 359.9,446.1 360.7,444.4 361.5,442.5 362.3,440.6 363.2,438.5 364.0,436.4 364.8,434.2 365.6,431.9 366.4,429.4 367.2,426.7 368.0,423.6 368.8,420.3 369.6,416.5 370.4,412.3 371.3,407.6 372.1,402.4 372.9,396.8 373.7,390.9 374.5,384.6 375.3,378.0 376.1,371.1 376.9,364.1 377.7,356.8 378.6,349.3 379.4,341.7 380.2,333.8 381.0,325.8 381.8,317.5 382.6,309.0 383.4,300.2 384.2,291.2 385.0,282.0 385.8,272.5 386.7,262.8 387.5,253.0 388.3,242.9 389.1,232.8 389.9,222.6 390.7,212.5 391.5,202.3 392.3,192.3 393.1,182.4 394.0,172.6 394.8,163.1 395.6,153.8 396.4,144.9 397.2,136.3 398.0,128.1 398.8,120.3 399.6,113.1 400.4,106.3 401.2,100.1 402.1,94.4 402.9,89.1 403.7,84.3 404.5,80.0 405.3,76.1 406.1,72.7 406.9,69.6 407.7,67.0 408.5,64.7 409.3,62.8 410.2,61.3 411.0,60.1 411.8,59.3 412.6,58.7 413.4,58.5 414.2,58.6 415.0,58.9 415.8,59.7 416.6,60.7 417.5,62.1 418.3,64.0 419.1,66.2 419.9,68.8 420.7,71.9 421.5,75.4 422.3,79.4 423.1,83.9 423.9,88.9 424.7,94.5 425.6,100.5 426.4,106.9 427.2,113.8 428.0,121.1 428.8,128.7 429.6,136.6 430.4,144.8 431.2,153.3 432.0,161.9 432.8,170.8 433.7,179.7 434.5,188.8 435.3,198.0 436.1,207.1 436.9,216.3 437.7,225.4 438.5,234.5 439.3,243.5 440.1,252.3 441.0,260.9 441.8,269.4 442.6,277.6 443.4,285.5 444.2,293.1 445.0,300.4 445.8,307.3 446.6,313.9 447.4,320.1 448.2,325.9 449.1,331.4 449.9,336.5 450.7,341.1 451.5,345.4 452.3,349.2 453.1,352.6 453.9,355.6 454.7,358.3 455.5,360.7 456.4,362.8 457.2,364.4 458.0,365.8 458.8,366.7 459.6,367.3 460.4,367.6 461.2,367.4 462.0,366.9 462.8,365.9 463.6,364.6 464.5,362.9 465.3,360.8 466.1,358.3 466.9,355.3 467.7,351.9 468.5,348.1 469.3,343.9 470.1,339.3 470.9,334.1 471.7,328.6 472.6,322.5 473.4,316.0 474.2,309.0 475.0,301.6 475.8,293.6 476.6,285.2 477.4,276.3 478.2,267.0 479.0,257.5 479.9,247.9 480.7,238.2 481.5,228.6 482.3,219.1 483.1,209.9 483.9,200.9 484.7,192.1 485.5,183.7 486.3,175.4 487.1,167.3 488.0,159.5 488.8,151.8 489.6,144.2 490.4,136.7 491.2,129.3 492.0,122.1 492.8,114.9 493.6,107.9 494.4,101.2 495.3,94.7 496.1,88.5 496.9,82.6 497.7,77.1 498.5,72.0 499.3,67.4 500.1,63.3 500.9,59.8 501.7,56.8 502.5,54.3 503.4,52.4 504.2,51.0 505.0,50.1 505.8,49.8 506.6,49.9 507.4,50.6 508.2,51.7 509.0,53.4 509.8,55.5 510.6,58.1 511.5,61.2 512.3,64.7 513.1,68.7 513.9,73.2 514.7,78.1 515.5,83.4 516.3,89.2 517.1,95.4 517.9,102.0 518.8,109.0 519.6,116.4 520.4,124.0 521.2,131.9 522.0,140.0 522.8,148.2 523.6,156.5 524.4,164.9 525.2,173.3 526.0,181.7 526.9,190.1 527.7,198.6 528.5,207.1 529.3,215.9 530.1,224.7 530.9,233.7 531.7,242.7 532.5,251.7 533.3,260.6 534.1,269.4 535.0,278.0 535.8,286.2 536.6,294.1 537.4,301.7 538.2,308.9 539.0,315.7 539.8,322.2 540.6,328.3 541.4,334.0 542.3,339.3 543.1,344.2 543.9,348.7 544.7,352.9 545.5,356.6 546.3,359.9 547.1,362.8 547.9,365.4 548.7,367.5 549.5,369.3 550.4,370.6 551.2,371.6 552.0,372.2 552.8,372.4 553.6,372.2 554.4,371.7 555.2,370.7 556.0,369.4 556.8,367.7 557.7,365.7 558.5,363.2 559.3,360.4 560.1,357.2 560.9,353.7 561.7,349.8 562.5,345.5 563.3,340.8 564.1,335.8 564.9,330.5 565.8,324.8 566.6,318.7 567.4,312.3 568.2,305.5 569.0,298.4 569.8,291.1 570.6,283.5 571.4,275.6 572.2,267.6 573.0,259.4 573.9,251.0 574.7,242.6 575.5,234.0 576.3,225.3 577.1,216.7 577.9,208.0 578.7,199.3 579.5,190.6 580.3,182.1 581.2,173.6 582.0,165.2 582.8,157.0 583.6,149.0 584.4,141.1 585.2,133.5 586.0,126.2 586.8,119.1 587.6,112.2 588.4,105.7 589.3,99.5 590.1,93.7 590.9,88.1 591.7,82.9 592.5,78.1 593.3,73.7 594.1,69.7 594.9,66.1 595.7,62.9 596.6,60.1 597.4,57.8 598.2,56.0 599.0,54.6 599.8,53.8 600.6,53.5 601.4,53.6 602.2,54.3 603.0,55.5 603.8,57.2 604.7,59.4 605.5,62.0 606.3,65.1 607.1,68.7 607.9,72.7 608.7,77.1 609.5,82.0 610.3,87.3 611.1,93.0 611.9,99.0 612.8,105.5 613.6,112.3 614.4,119.5 615.2,127.0 616.0,134.8 616.8,142.8 617.6,151.2 618.4,159.7 619.2,168.5 620.1,177.5 620.9,186.7 621.7,196.0 622.5,205.5 623.3,215.0 624.1,224.6 624.9,234.3 625.7,243.9 626.5,253.4 627.3,262.9 628.2,272.1 629.0,281.2 629.8,290.0 630.6,298.5 631.4,306.7 632.2,314.6 633.0,322.2 633.8,329.6 634.6,336.7 635.4,343.4 636.3,350.0 637.1,356.2 637.9,362.2 638.7,368.0 639.5,373.5 640.3,378.8 641.1,383.9 641.9,388.7 642.7,393.3 643.6,397.8 644.4,402.0 645.2,406.0 646.0,409.8 646.8,413.4 647.6,416.9 648.4,420.2 649.2,423.3 650.0,426.2 650.8,429.0 651.7,431.7 652.5,434.2 653.3,436.6 654.1,438.8 654.9,440.9 655.7,442.9 656.5,444.8 657.3,446.6 658.1,448.3 659.0,449.9 659.8,451.4 660.6,452.9 661.4,454.2 662.2,455.5 663.0,456.7 663.8,457.8 664.6,458.8 665.4,459.8 666.2,460.7 667.1,461.5 667.9,462.2 668.7,462.9 669.5,463.5 670.3,464.0 671.1,464.4 671.9,464.8 672.7,465.0 673.5,465.3 674.3,465.4 675.2,465.5 676.0,465.5 676.8,465.4 677.6,465.2 678.4,465.0 679.2,464.7 680.0,464.4 680.8,464.0 681.6,463.5 682.5,463.0 683.3,462.4 684.1,461.8 684.9,461.1 685.7,460.4 686.5,459.6 687.3,458.8 688.1,457.9 688.9,457.1 689.7,456.1 690.6,455.2 691.4,454.2 692.2,453.2 693.0,452.1 693.8,451.0 694.6,449.9 695.4,448.8 696.2,447.6 697.0,446.3 697.9,445.0 698.7,443.7 699.5,442.3 700.3,440.8 701.1,439.3 701.9,437.7 702.7,436.1 703.5,434.4 704.3,432.6 705.1,430.8 706.0,428.8 706.8,426.8 707.6,424.8 708.4,422.6 709.2,420.3 710.0,417.9 710.8,415.4 711.6,412.7 712.4,409.7 713.2,406.5 714.1,403.0 714.9,399.2 715.7,395.1 716.5,390.7 717.3,385.9 718.1,380.8 718.9,375.4 719.7,369.8 720.5,363.9 721.4,357.8 722.2,351.5 723.0,345.1 723.8,338.5 724.6,331.7 725.4,324.9 726.2,317.9 727.0,310.9 727.8,303.9 728.6,296.9 729.5,289.9 730.3,283.0 731.1,276.3 731.9,269.8 732.7,263.7 733.5,257.9 734.3,252.5 735.1,247.6 735.9,243.1 736.7,239.1 737.6,235.6 738.4,232.5 739.2,229.8 740.0,227.6 740.8,225.9 741.6,224.5 742.4,223.7 743.2,223.3 744.0,223.3 744.9,223.8 745.7,224.8 746.5,226.1 747.3,228.0 748.1,230.2 748.9,233.0 749.7,236.1 750.5,239.7 751.3,243.7 752.1,248.0 753.0,252.7 753.8,257.6 754.6,262.8 755.4,268.1 756.2,273.7 757.0,279.3 757.8,285.1 758.6,290.9 759.4,296.7 760.3,302.4 761.1,308.1 761.9,313.8 762.7,319.2 763.5,324.5 764.3,329.6 765.1,334.4 765.9,338.9 766.7,343.1 767.5,347.1 768.4,350.9 769.2,354.7 770.0,358.5 770.8,362.5 771.6,366.6 772.4,370.9 773.2,375.4 774.0,379.9 774.8,384.5 775.6,389.2 776.5,393.8 777.3,398.3 778.1,402.8 778.9,407.2 779.7,411.4 780.5,415.4 781.3,419.2 782.1,422.9 782.9,426.4 783.8,429.7 784.6,432.8 785.4,435.8 786.2,438.6 787.0,441.3 787.8,443.8 788.6,446.2 789.4,448.5 790.2,450.6 791.0,452.6 791.9,454.5 792.7,456.2 793.5,457.9 794.3,459.4 795.1,460.8 795.9,462.2 796.7,463.4 797.5,464.6 798.3,465.7 799.2,466.7 800.0,467.6 800.8,468.5 801.6,469.3 802.4,470.0 803.2,470.7 804.0,471.3 804.8,471.9 805.6,472.5 806.4,473.0 807.3,473.4 808.1,473.8 808.9,474.2 809.7,474.5 810.5,474.8 811.3,475.0 812.1,475.2 812.9,475.3 813.7,475.4 814.5,475.4 815.4,475.4 816.2,475.3 817.0,475.2 817.8,475.1 818.6,474.9 819.4,474.6 820.2,474.3 821.0,474.0 821.8,473.6 822.7,473.2 823.5,472.7 824.3,472.1 825.1,471.5 825.9,470.9 826.7,470.2 827.5,469.5 828.3,468.7 829.1,467.9 829.9,467.0 830.8,466.1 831.6,465.1 832.4,464.1 833.2,463.0 834.0,461.9 834.8,460.8 835.6,459.6 836.4,458.3 837.2,457.0 838.0,455.7 838.9,454.3 839.7,452.9 840.5,451.4 841.3,449.9 842.1,448.4 842.9,446.8 843.7,445.2 844.5,443.5 845.3,441.8 846.2,440.1 847.0,438.3 847.8,436.5 848.6,434.6 849.4,432.7 850.2,430.8 851.0,428.7 851.8,426.6 852.6,424.3 853.4,421.8 854.3,419.2 855.1,416.2 855.9,413.1 856.7,409.6 857.5,405.8 858.3,401.7 859.1,397.4 859.9,393.0 860.7,388.4 861.6,383.8 862.4,379.2 863.2,374.6 864.0,369.9 864.8,365.1 865.6,360.1 866.4,354.9 867.2,349.6 868.0,344.1 868.8,338.5 869.7,332.8 870.5,326.9 871.3,320.9 872.1,314.8 872.9,308.6 873.7,302.3 874.5,295.9 875.3,289.5 876.1,283.0 876.9,276.5 877.8,270.0 878.6,263.4 879.4,256.9 880.2,250.5 881.0,244.2 881.8,238.1 882.6,232.3 883.4,226.8 884.2,221.6 885.1,216.9 885.9,212.6 886.7,208.8 887.5,205.5 888.3,202.8 889.1,200.6 889.9,199.0 890.7,198.0 891.5,197.7 892.3,198.0 893.2,199.0 894.0,200.7 894.8,203.1 895.6,206.3 896.4,210.3 897.2,215.0 898.0,220.6 898.8,226.8 899.6,233.7 900.5,240.9 901.3,248.6 902.1,256.4 902.9,264.3 903.7,272.2 904.5,279.9 905.3,287.4 906.1,294.8 906.9,302.1 907.7,309.2 908.6,316.1 909.4,322.9 910.2,329.6 911.0,336.2 911.8,342.7 912.6,349.0 913.4,355.2 914.2,361.4 915.0,367.5 915.8,373.4 916.7,379.3 917.5,385.0 918.3,390.5 919.1,395.9 919.9,401.1 920.7,406.0 921.5,410.8 922.3,415.3 923.1,419.5 924.0,423.5 924.8,427.4 925.6,430.9 926.4,434.3 927.2,437.5 928.0,440.5 928.8,443.3 929.6,446.0 930.4,448.4 931.2,450.8 932.1,452.9 932.9,454.9 933.7,456.8 934.5,458.5 935.3,460.1 936.1,461.6 936.9,462.9 937.7,464.2 938.5,465.4 939.3,466.4 940.2,467.4 941.0,468.3 941.8,469.2 942.6,469.9 943.4,470.6 944.2,471.2 945.0,471.8 945.8,472.3 946.6,472.7 947.5,473.1 948.3,473.4 949.1,473.6 949.9,473.8 950.7,473.9 951.5,474.0 952.3,474.0 953.1,474.0 953.9,473.9 954.7,473.7 955.6,473.5 956.4,473.3 957.2,473.0 958.0,472.7 958.8,472.3 959.6,471.9 960.4,471.4 961.2,471.0 962.0,470.4 962.9,469.9 963.7,469.3 964.5,468.6 965.3,468.0 966.1,467.3 966.9,466.5 967.7,465.8 968.5,465.0 969.3,464.2 970.1,463.4 971.0,462.5 971.8,461.6 972.6,460.7 973.4,459.7 974.2,458.6 975.0,457.5 975.8,456.4 976.6,455.2 977.4,454.0 978.2,452.7 979.1,451.3 979.9,449.9 980.7,448.4 981.5,446.8 982.3,445.2 983.1,443.5 983.9,441.7 984.7,439.9 985.5,437.9 986.4,435.9 987.2,433.7 988.0,431.5 988.8,429.2 989.6,426.7 990.4,424.1 991.2,421.3 992.0,418.2 992.8,414.8 993.6,411.2 994.5,407.2 995.3,403.0 996.1,398.5 996.9,393.8 997.7,388.9 998.5,383.7 999.3,378.3 1000.1,372.8 1000.9,367.0 1001.8,361.2 1002.6,355.2 1003.4,349.1 1004.2,342.9 1005.0,336.8 1005.8,330.7 1006.6,324.6 1007.4,318.6 1008.2,312.8 1009.0,307.0 1009.9,301.3 1010.7,295.6 1011.5,289.7 1012.3,283.6 1013.1,277.3 1013.9,270.9 1014.7,264.5 1015.5,258.1 1016.3,251.9 1017.1,246.0 1018.0,240.5 1018.8,235.5 1019.6,231.2 1020.4,227.5 1021.2,224.5 1022.0,222.2 1022.8,220.5 1023.6,219.5 1024.4,219.0 1025.3,219.2 1026.1,219.9 1026.9,221.1 1027.7,222.8 1028.5,225.0 1029.3,227.6 1030.1,230.7 1030.9,234.2 1031.7,238.1 1032.5,242.3 1033.4,246.9 1034.2,251.8 1035.0,256.9 1035.8,262.3 1036.6,268.0 1037.4,273.8 1038.2,279.7 1039.0,285.7 1039.8,291.7 1040.6,297.6 1041.5,303.5 1042.3,309.3 1043.1,314.9 1043.9,320.2 1044.7,325.4 1045.5,330.5 1046.3,335.4 1047.1,340.3 1047.9,345.1 1048.8,350.0 1049.6,354.9 1050.4,359.9 1051.2,365.1 1052.0,370.4 1052.8,375.9 1053.6,381.4 1054.4,386.9 1055.2,392.3 1056.0,397.5 1056.9,402.6 1057.7,407.5 1058.5,412.1 1059.3,416.6 1060.1,420.9 1060.9,424.9 1061.7,428.8 1062.5,432.4 1063.3,435.8 1064.2,438.9 1065.0,441.8 1065.8,444.4 1066.6,446.8 1067.4,449.0 1068.2,450.9 1069.0,452.7 1069.8,454.3 1070.6,455.8 1071.4,457.2 1072.3,458.5 1073.1,459.7 1073.9,460.9 1074.7,462.0 1075.5,463.1 1076.3,464.1 1077.1,465.1 1077.9,466.0 1078.7,466.9 1079.5,467.7 1080.4,468.5 1081.2,469.3 1082.0,470.0 1082.8,470.6 1083.6,471.2 1084.4,471.7 1085.2,472.2 1086.0,472.8 1086.8,473.2 1087.7,473.7 1088.5,474.1 1089.3,474.5 1090.1,474.9 1090.9,475.3 1091.7,475.5 1092.5,475.8 1093.3,476.0 1094.1,476.2 1094.9,476.4 1095.8,476.6 1096.6,476.8 1097.4,476.9 1098.2,477.1 1099.0,477.2 1099.8,477.3 1100.6,477.5 1101.4,477.6 1102.2,477.7 1103.1,477.9 1103.9,478.0 1104.7,478.1 1105.5,478.3 1106.3,478.4 1107.1,478.6 1107.9,478.7 1108.7,478.9 1109.5,479.0 1110.3,479.1 1111.2,479.3 1112.0,479.4 1112.8,479.4 1113.6,479.5 1114.4,479.6 1115.2,479.6 1116.0,479.6 1116.8,479.6 1117.6,479.7 1118.4,479.7 1119.3,479.7 1120.1,479.7 1120.9,479.8 1121.7,479.8 1122.5,479.8 1123.3,479.8 1124.1,479.8 1124.9,479.9 1125.7,479.9 1126.6,479.9 1127.4,479.9 1128.2,479.9 1129.0,479.9 1129.8,479.9 1130.6,479.9 1131.4,479.9 1132.2,479.9 1133.0,479.9 1133.8,479.9 1134.7,479.9 1135.5,479.9 1136.3,479.9 1137.1,479.9 1137.9,479.9 1138.7,479.9 1139.5,479.9 1140.3,479.9 1141.1,479.9 1141.9,479.9 1345.4,479.9" fill="none" stroke="#3030ff" stroke-width="1.5" stroke-linejoin="round"/>
<g clip-path="url(#cTopHi)" stroke-width="2.6">
<use href="#ptopblack" style="stroke-width:2.4"/>
<use href="#ptopred" style="stroke-width:2.4"/>
<use href="#ptopblue" style="stroke-width:2.7"/>
</g>
<g class="mb">
<circle cx="410.4" cy="159.1" r="48.5" fill="url(#gM)"/><circle cx="416.5" cy="161.9" r="4.4" fill="url(#gHL)"/>
<circle cx="410.4" cy="256.8" r="48.5" fill="url(#gM)"/><circle cx="416.5" cy="257.6" r="4.4" fill="url(#gHL)"/>
<circle cx="410.4" cy="354.9" r="48.5" fill="url(#gM)"/><circle cx="416.5" cy="354.6" r="4.4" fill="url(#gHL)"/>
<circle cx="502.3" cy="191.6" r="48.5" fill="url(#gM)"/><circle cx="507.0" cy="194.4" r="4.4" fill="url(#gHL)"/>
<circle cx="502.3" cy="289.6" r="48.5" fill="url(#gM)"/><circle cx="507.0" cy="290.4" r="4.4" fill="url(#gHL)"/>
<circle cx="502.3" cy="387.5" r="48.5" fill="url(#gM)"/><circle cx="507.0" cy="387.2" r="4.4" fill="url(#gHL)"/>
<circle cx="596.0" cy="223.4" r="48.5" fill="url(#gM)"/><circle cx="599.8" cy="226.2" r="4.4" fill="url(#gHL)"/>
<circle cx="596.0" cy="321.7" r="48.5" fill="url(#gM)"/><circle cx="599.8" cy="322.5" r="4.4" fill="url(#gHL)"/>
<circle cx="596.0" cy="419.3" r="48.5" fill="url(#gM)"/><circle cx="599.8" cy="419.0" r="4.4" fill="url(#gHL)"/>
<circle cx="735.3" cy="147.4" r="10.5" fill="url(#gH)"/>
<circle cx="755.7" cy="136.4" r="23.5" fill="url(#gO)"/>
<circle cx="741.8" cy="192.4" r="11" fill="url(#gHs)"/>
<circle cx="733.1" cy="227.2" r="23.6" fill="url(#gO)"/>
<circle cx="729.8" cy="214.3" r="23.6" fill="url(#gO)"/>
<circle cx="745.4" cy="218.6" r="11" fill="url(#gH)"/>
<circle cx="689.0" cy="214.0" r="11" fill="url(#gHs)"/>
<circle cx="692.3" cy="227.9" r="11" fill="url(#gH)"/>
<circle cx="745.1" cy="276.5" r="11.2" fill="url(#gH)"/>
<circle cx="736.6" cy="278.2" r="11.2" fill="url(#gH)"/>
<circle cx="757.3" cy="313.8" r="24.7" fill="url(#gB)"/>
<circle cx="732.0" cy="314.0" r="23.8" fill="url(#gO)"/>
<circle cx="692.1" cy="321.2" r="11" fill="url(#gH)"/>
<circle cx="747.3" cy="348.8" r="11" fill="url(#gH)"/>
<circle cx="742.8" cy="400.4" r="11" fill="url(#gHs)"/>
<circle cx="732.1" cy="403.1" r="23.3" fill="url(#gO)"/>
<circle cx="691.4" cy="400.2" r="11.2" fill="url(#gH)"/>
<circle cx="754.5" cy="395.8" r="11" fill="url(#gH)"/>
<circle cx="877.1" cy="186.4" r="11" fill="url(#gHs)"/>
<circle cx="887.2" cy="180.7" r="11" fill="url(#gH)"/>
<circle cx="868.5" cy="222.0" r="23.7" fill="url(#gO)"/>
<circle cx="881.2" cy="217.0" r="23.5" fill="url(#gO)"/>
<circle cx="842.0" cy="223.6" r="11.2" fill="url(#gH)"/>
<circle cx="897.5" cy="284.0" r="11" fill="url(#gHs)"/>
<circle cx="881.4" cy="277.0" r="11" fill="url(#gH)"/>
<circle cx="891.5" cy="320.3" r="23.5" fill="url(#gO)"/>
<circle cx="884.6" cy="313.3" r="23.2" fill="url(#gO)"/>
<circle cx="847.5" cy="324.7" r="11" fill="url(#gH)"/>
<circle cx="886.0" cy="376.1" r="11" fill="url(#gH)"/>
<circle cx="900.0" cy="382.5" r="11" fill="url(#gH)"/>
<circle cx="879.4" cy="410.7" r="23.5" fill="url(#gO)"/>
<circle cx="890.0" cy="418.0" r="23.2" fill="url(#gO)"/>
<circle cx="840.6" cy="408.5" r="11" fill="url(#gH)"/>
<circle cx="1014.5" cy="184.0" r="10.5" fill="url(#gHs)"/>
<circle cx="1022.2" cy="183.0" r="11" fill="url(#gH)"/>
<circle cx="1007.3" cy="220.2" r="23.5" fill="url(#gO)"/>
<circle cx="1012.4" cy="217.7" r="23.5" fill="url(#gO)"/>
<circle cx="972.6" cy="219.7" r="11.2" fill="url(#gH)"/>
<circle cx="1032.6" cy="283.5" r="11" fill="url(#gHs)"/>
<circle cx="1014.6" cy="279.0" r="11" fill="url(#gH)"/>
<circle cx="1033.9" cy="320.7" r="23.3" fill="url(#gO)"/>
<circle cx="1035.9" cy="316.6" r="10" fill="url(#gHs)"/>
<circle cx="1010.9" cy="314.8" r="23.5" fill="url(#gO)"/>
<circle cx="971.6" cy="319.5" r="11" fill="url(#gH)"/>
<circle cx="1022.0" cy="376.0" r="11" fill="url(#gH)"/>
<circle cx="1030.7" cy="382.0" r="11" fill="url(#gH)"/>
<circle cx="1012.0" cy="410.0" r="23.5" fill="url(#gO)"/>
<circle cx="1031.4" cy="418.5" r="23.5" fill="url(#gO)"/>
<circle cx="971.9" cy="408.5" r="11" fill="url(#gH)"/>
</g>
<circle cx="116.39" cy="479.90" r="6.7" fill="#4646ff" stroke="#333" stroke-width="1.3"/>
<circle cx="460.28" cy="355.25" r="6.7" fill="#444" stroke="#333" stroke-width="1.3"/>
<circle cx="460.28" cy="357.64" r="6.7" fill="#e02828" stroke="#333" stroke-width="1.3"/>
<circle cx="460.28" cy="367.27" r="6.7" fill="#2020cc" stroke="#333" stroke-width="1.3"/>
<circle cx="552.30" cy="360.10" r="6.7" fill="#444" stroke="#333" stroke-width="1.3"/>
<circle cx="552.30" cy="363.31" r="6.7" fill="#f43c3c" stroke="#333" stroke-width="1.3"/>
<circle cx="552.30" cy="372.40" r="6.7" fill="#4444ff" stroke="#333" stroke-width="1.3"/>
<circle cx="676.50" cy="463.85" r="6.7" fill="#444" stroke="#333" stroke-width="1.3"/>
<circle cx="676.50" cy="465.83" r="6.7" fill="#4646ff" stroke="#333" stroke-width="1.3"/>
<circle cx="815.36" cy="474.98" r="6.7" fill="#444" stroke="#333" stroke-width="1.3"/>
<circle cx="815.36" cy="475.12" r="6.7" fill="#4646ff" stroke="#333" stroke-width="1.3"/>
<circle cx="951.91" cy="473.21" r="6.7" fill="#444" stroke="#333" stroke-width="1.3"/>
<circle cx="951.91" cy="473.89" r="6.7" fill="#4646ff" stroke="#333" stroke-width="1.3"/>
<circle cx="1332.80" cy="479.90" r="6.7" fill="#4646ff" stroke="#333" stroke-width="1.3"/>
</g>
<g clip-path="url(#cBot)">
<path id="pbotblack" d="M109.5,957.4 271.6,957.4 272.4,957.3 273.2,957.3 274.0,957.3 274.8,957.3 275.6,957.3 276.4,957.3 277.3,957.3 278.1,957.3 278.9,957.3 279.7,957.3 280.5,957.3 281.3,957.3 282.1,957.3 282.9,957.3 283.7,957.3 284.5,957.3 285.4,957.3 286.2,957.2 287.0,957.2 287.8,957.2 288.6,957.2 289.4,957.2 290.2,957.2 291.0,957.2 291.8,957.2 292.7,957.2 293.5,957.2 294.3,957.1 295.1,957.1 295.9,957.1 296.7,957.0 297.5,957.0 298.3,957.0 299.1,956.9 299.9,956.8 300.8,956.8 301.6,956.7 302.4,956.7 303.2,956.6 304.0,956.5 304.8,956.4 305.6,956.4 306.4,956.3 307.2,956.2 308.0,956.1 308.9,956.0 309.7,955.9 310.5,955.8 311.3,955.8 312.1,955.7 312.9,955.6 313.7,955.5 314.5,955.4 315.3,955.3 316.2,955.1 317.0,955.0 317.8,954.9 318.6,954.8 319.4,954.6 320.2,954.5 321.0,954.4 321.8,954.2 322.6,954.0 323.4,953.9 324.3,953.7 325.1,953.5 325.9,953.3 326.7,953.1 327.5,952.9 328.3,952.7 329.1,952.5 329.9,952.3 330.7,952.1 331.5,951.8 332.4,951.6 333.2,951.3 334.0,951.1 334.8,950.8 335.6,950.4 336.4,950.1 337.2,949.7 338.0,949.3 338.8,948.9 339.7,948.5 340.5,948.0 341.3,947.4 342.1,946.9 342.9,946.3 343.7,945.8 344.5,945.2 345.3,944.5 346.1,943.9 346.9,943.3 347.8,942.6 348.6,941.9 349.4,941.2 350.2,940.4 351.0,939.6 351.8,938.8 352.6,938.0 353.4,937.1 354.2,936.3 355.1,935.3 355.9,934.4 356.7,933.4 357.5,932.3 358.3,931.1 359.1,929.8 359.9,928.4 360.7,926.8 361.5,925.1 362.3,923.2 363.2,921.1 364.0,918.8 364.8,916.3 365.6,913.5 366.4,910.5 367.2,907.3 368.0,903.7 368.8,899.9 369.6,895.8 370.4,891.4 371.3,886.7 372.1,881.7 372.9,876.4 373.7,870.8 374.5,864.8 375.3,858.5 376.1,851.9 376.9,844.9 377.7,837.6 378.6,829.9 379.4,821.8 380.2,813.4 381.0,804.6 381.8,795.6 382.6,786.3 383.4,776.8 384.2,767.2 385.0,757.5 385.8,747.7 386.7,737.8 387.5,727.9 388.3,718.1 389.1,708.3 389.9,698.6 390.7,689.0 391.5,679.4 392.3,670.1 393.1,660.8 394.0,651.8 394.8,643.0 395.6,634.4 396.4,626.0 397.2,618.0 398.0,610.2 398.8,602.8 399.6,595.7 400.4,589.0 401.2,582.7 402.1,576.8 402.9,571.3 403.7,566.2 404.5,561.6 405.3,557.5 406.1,553.8 406.9,550.6 407.7,547.8 408.5,545.4 409.3,543.4 410.2,541.8 411.0,540.6 411.8,539.8 412.6,539.3 413.4,539.2 414.2,539.4 415.0,540.0 415.8,541.0 416.6,542.3 417.5,543.9 418.3,546.0 419.1,548.4 419.9,551.2 420.7,554.4 421.5,558.0 422.3,562.0 423.1,566.4 423.9,571.3 424.7,576.5 425.6,582.2 426.4,588.3 427.2,594.8 428.0,601.7 428.8,608.9 429.6,616.4 430.4,624.1 431.2,632.0 432.0,640.0 432.8,648.0 433.7,656.1 434.5,664.2 435.3,672.3 436.1,680.5 436.9,688.7 437.7,697.1 438.5,705.4 439.3,713.8 440.1,722.2 441.0,730.5 441.8,738.7 442.6,746.7 443.4,754.5 444.2,762.1 445.0,769.4 445.8,776.3 446.6,783.0 447.4,789.2 448.2,795.0 449.1,800.3 449.9,805.2 450.7,809.6 451.5,813.7 452.3,817.3 453.1,820.5 453.9,823.4 454.7,825.9 455.5,828.0 456.4,829.8 457.2,831.3 458.0,832.4 458.8,833.2 459.6,833.8 460.4,834.0 461.2,834.0 462.0,833.6 462.8,832.9 463.6,831.9 464.5,830.4 465.3,828.6 466.1,826.3 466.9,823.6 467.7,820.4 468.5,816.6 469.3,812.3 470.1,807.5 470.9,802.2 471.7,796.5 472.6,790.3 473.4,783.7 474.2,776.7 475.0,769.4 475.8,761.8 476.6,753.9 477.4,745.8 478.2,737.5 479.0,729.0 479.9,720.3 480.7,711.6 481.5,702.8 482.3,694.0 483.1,685.1 483.9,676.3 484.7,667.6 485.5,659.0 486.3,650.6 487.1,642.3 488.0,634.3 488.8,626.5 489.6,619.0 490.4,611.8 491.2,604.8 492.0,598.2 492.8,591.9 493.6,585.9 494.4,580.3 495.3,575.0 496.1,570.0 496.9,565.4 497.7,561.2 498.5,557.2 499.3,553.6 500.1,550.3 500.9,547.3 501.7,544.6 502.5,542.2 503.4,540.2 504.2,538.6 505.0,537.6 505.8,537.0 506.6,537.1 507.4,537.7 508.2,538.8 509.0,540.5 509.8,542.6 510.6,545.1 511.5,548.1 512.3,551.4 513.1,555.1 513.9,559.2 514.7,563.6 515.5,568.4 516.3,573.6 517.1,579.1 517.9,584.9 518.8,591.0 519.6,597.5 520.4,604.2 521.2,611.1 522.0,618.3 522.8,625.6 523.6,633.2 524.4,640.8 525.2,648.6 526.0,656.4 526.9,664.3 527.7,672.3 528.5,680.3 529.3,688.4 530.1,696.4 530.9,704.5 531.7,712.5 532.5,720.5 533.3,728.4 534.1,736.3 535.0,744.2 535.8,751.9 536.6,759.4 537.4,766.8 538.2,774.0 539.0,781.0 539.8,787.7 540.6,794.0 541.4,800.1 542.3,805.7 543.1,811.0 543.9,815.9 544.7,820.2 545.5,824.2 546.3,827.6 547.1,830.7 547.9,833.3 548.7,835.5 549.5,837.2 550.4,838.6 551.2,839.5 552.0,840.1 552.8,840.3 553.6,840.1 554.4,839.5 555.2,838.6 556.0,837.3 556.8,835.6 557.7,833.6 558.5,831.2 559.3,828.4 560.1,825.3 560.9,821.9 561.7,818.1 562.5,813.9 563.3,809.4 564.1,804.5 564.9,799.3 565.8,793.8 566.6,787.9 567.4,781.7 568.2,775.2 569.0,768.4 569.8,761.4 570.6,754.3 571.4,747.1 572.2,739.9 573.0,732.7 573.9,725.6 574.7,718.5 575.5,711.4 576.3,704.2 577.1,696.8 577.9,689.3 578.7,681.5 579.5,673.5 580.3,665.1 581.2,656.4 582.0,647.7 582.8,639.0 583.6,630.6 584.4,622.4 585.2,614.5 586.0,606.9 586.8,599.7 587.6,592.9 588.4,586.4 589.3,580.3 590.1,574.7 590.9,569.5 591.7,564.7 592.5,560.4 593.3,556.4 594.1,552.9 594.9,549.8 595.7,547.1 596.6,544.7 597.4,542.8 598.2,541.2 599.0,540.1 599.8,539.3 600.6,538.8 601.4,538.8 602.2,539.1 603.0,539.8 603.8,540.9 604.7,542.5 605.5,544.4 606.3,546.9 607.1,549.8 607.9,553.1 608.7,557.0 609.5,561.4 610.3,566.3 611.1,571.7 611.9,577.7 612.8,584.1 613.6,590.9 614.4,598.2 615.2,606.0 616.0,614.1 616.8,622.6 617.6,631.3 618.4,640.0 619.2,648.5 620.1,656.8 620.9,665.1 621.7,673.3 622.5,681.6 623.3,690.0 624.1,698.6 624.9,707.3 625.7,716.3 626.5,725.5 627.3,734.7 628.2,743.9 629.0,753.0 629.8,762.0 630.6,770.6 631.4,778.9 632.2,786.9 633.0,794.7 633.8,802.1 634.6,809.3 635.4,816.2 636.3,822.8 637.1,829.2 637.9,835.3 638.7,841.1 639.5,846.8 640.3,852.1 641.1,857.3 641.9,862.2 642.7,866.9 643.6,871.4 644.4,875.7 645.2,879.8 646.0,883.6 646.8,887.3 647.6,890.9 648.4,894.2 649.2,897.4 650.0,900.4 650.8,903.2 651.7,905.9 652.5,908.4 653.3,910.8 654.1,913.1 654.9,915.3 655.7,917.3 656.5,919.2 657.3,921.0 658.1,922.7 659.0,924.3 659.8,925.8 660.6,927.2 661.4,928.6 662.2,929.9 663.0,931.1 663.8,932.2 664.6,933.3 665.4,934.3 666.2,935.2 667.1,936.1 667.9,936.9 668.7,937.7 669.5,938.4 670.3,939.0 671.1,939.5 671.9,940.0 672.7,940.5 673.5,940.8 674.3,941.1 675.2,941.4 676.0,941.6 676.8,941.7 677.6,941.8 678.4,941.8 679.2,941.7 680.0,941.6 680.8,941.5 681.6,941.2 682.5,941.0 683.3,940.6 684.1,940.2 684.9,939.8 685.7,939.2 686.5,938.7 687.3,938.0 688.1,937.4 688.9,936.6 689.7,935.9 690.6,935.1 691.4,934.2 692.2,933.3 693.0,932.5 693.8,931.5 694.6,930.6 695.4,929.6 696.2,928.7 697.0,927.7 697.9,926.8 698.7,925.8 699.5,924.8 700.3,923.9 701.1,922.9 701.9,922.0 702.7,921.0 703.5,920.0 704.3,918.9 705.1,917.8 706.0,916.6 706.8,915.3 707.6,914.0 708.4,912.5 709.2,911.0 710.0,909.3 710.8,907.5 711.6,905.6 712.4,903.5 713.2,901.2 714.1,898.8 714.9,896.2 715.7,893.4 716.5,890.4 717.3,887.2 718.1,883.7 718.9,880.1 719.7,876.1 720.5,872.0 721.4,867.5 722.2,862.8 723.0,857.8 723.8,852.5 724.6,846.9 725.4,840.9 726.2,834.5 727.0,827.7 727.8,820.6 728.6,813.0 729.5,805.1 730.3,797.0 731.1,789.0 731.9,781.2 732.7,773.9 733.5,767.0 734.3,760.6 735.1,754.6 735.9,749.1 736.7,743.9 737.6,738.9 738.4,733.9 739.2,729.0 740.0,724.0 740.8,719.2 741.6,714.6 742.4,710.6 743.2,707.2 744.0,704.4 744.9,702.3 745.7,700.8 746.5,699.9 747.3,699.5 748.1,699.6 748.9,700.1 749.7,701.2 750.5,702.6 751.3,704.5 752.1,706.7 753.0,709.3 753.8,712.2 754.6,715.3 755.4,718.8 756.2,722.5 757.0,726.4 757.8,730.5 758.6,734.9 759.4,739.4 760.3,744.2 761.1,749.1 761.9,754.1 762.7,759.3 763.5,764.6 764.3,770.0 765.1,775.5 765.9,781.1 766.7,786.7 767.5,792.4 768.4,798.1 769.2,803.8 770.0,809.5 770.8,815.2 771.6,820.9 772.4,826.5 773.2,832.0 774.0,837.5 774.8,842.9 775.6,848.2 776.5,853.4 777.3,858.5 778.1,863.4 778.9,868.2 779.7,872.8 780.5,877.3 781.3,881.7 782.1,885.9 782.9,889.9 783.8,893.8 784.6,897.5 785.4,901.0 786.2,904.3 787.0,907.5 787.8,910.4 788.6,913.2 789.4,915.7 790.2,918.1 791.0,920.2 791.9,922.3 792.7,924.1 793.5,925.8 794.3,927.4 795.1,928.8 795.9,930.0 796.7,931.2 797.5,932.2 798.3,933.1 799.2,933.9 800.0,934.6 800.8,935.2 801.6,935.7 802.4,936.1 803.2,936.5 804.0,936.7 804.8,936.9 805.6,937.0 806.4,937.0 807.3,936.9 808.1,936.8 808.9,936.5 809.7,936.2 810.5,935.9 811.3,935.4 812.1,934.9 812.9,934.4 813.7,933.7 814.5,933.0 815.4,932.3 816.2,931.4 817.0,930.6 817.8,929.6 818.6,928.6 819.4,927.6 820.2,926.5 821.0,925.4 821.8,924.2 822.7,922.9 823.5,921.6 824.3,920.3 825.1,918.9 825.9,917.5 826.7,916.0 827.5,914.5 828.3,912.8 829.1,911.1 829.9,909.2 830.8,907.3 831.6,905.2 832.4,903.0 833.2,900.7 834.0,898.2 834.8,895.6 835.6,892.8 836.4,889.9 837.2,886.7 838.0,883.4 838.9,879.9 839.7,876.2 840.5,872.3 841.3,868.2 842.1,863.9 842.9,859.4 843.7,854.8 844.5,850.0 845.3,845.2 846.2,840.2 847.0,835.2 847.8,830.1 848.6,824.9 849.4,819.7 850.2,814.5 851.0,809.4 851.8,804.3 852.6,799.3 853.4,794.4 854.3,789.8 855.1,785.4 855.9,781.2 856.7,777.5 857.5,774.1 858.3,771.0 859.1,768.2 859.9,765.8 860.7,763.6 861.6,761.8 862.4,760.1 863.2,758.7 864.0,757.6 864.8,756.6 865.6,755.8 866.4,755.2 867.2,754.7 868.0,754.4 868.8,754.2 869.7,754.1 870.5,754.1 871.3,754.1 872.1,754.3 872.9,754.6 873.7,754.9 874.5,755.4 875.3,755.9 876.1,756.6 876.9,757.3 877.8,758.1 878.6,759.0 879.4,760.0 880.2,761.1 881.0,762.2 881.8,763.5 882.6,764.8 883.4,766.2 884.2,767.7 885.1,769.3 885.9,771.1 886.7,773.0 887.5,775.0 888.3,777.2 889.1,779.6 889.9,782.2 890.7,784.9 891.5,787.9 892.3,791.1 893.2,794.5 894.0,798.2 894.8,802.1 895.6,806.3 896.4,810.7 897.2,815.2 898.0,819.8 898.8,824.5 899.6,829.2 900.5,833.9 901.3,838.5 902.1,843.1 902.9,847.6 903.7,852.0 904.5,856.3 905.3,860.6 906.1,864.8 906.9,868.9 907.7,872.9 908.6,876.8 909.4,880.6 910.2,884.3 911.0,887.9 911.8,891.4 912.6,894.7 913.4,898.0 914.2,901.1 915.0,904.2 915.8,907.1 916.7,909.9 917.5,912.5 918.3,915.1 919.1,917.5 919.9,919.8 920.7,922.0 921.5,924.0 922.3,926.0 923.1,927.7 924.0,929.4 924.8,930.9 925.6,932.3 926.4,933.5 927.2,934.7 928.0,935.6 928.8,936.5 929.6,937.2 930.4,937.7 931.2,938.2 932.1,938.5 932.9,938.7 933.7,938.8 934.5,938.8 935.3,938.7 936.1,938.4 936.9,938.1 937.7,937.8 938.5,937.3 939.3,936.7 940.2,936.1 941.0,935.4 941.8,934.6 942.6,933.8 943.4,932.9 944.2,932.0 945.0,931.0 945.8,930.0 946.6,928.9 947.5,927.8 948.3,926.7 949.1,925.6 949.9,924.4 950.7,923.2 951.5,922.0 952.3,920.8 953.1,919.6 953.9,918.3 954.7,917.0 955.6,915.7 956.4,914.3 957.2,912.9 958.0,911.3 958.8,909.7 959.6,908.0 960.4,906.1 961.2,904.1 962.0,901.9 962.9,899.6 963.7,897.0 964.5,894.3 965.3,891.4 966.1,888.3 966.9,885.0 967.7,881.4 968.5,877.6 969.3,873.7 970.1,869.5 971.0,865.2 971.8,860.7 972.6,856.1 973.4,851.3 974.2,846.4 975.0,841.3 975.8,836.2 976.6,830.9 977.4,825.6 978.2,820.2 979.1,814.7 979.9,809.2 980.7,803.7 981.5,798.1 982.3,792.4 983.1,786.8 983.9,781.2 984.7,775.7 985.5,770.2 986.4,765.0 987.2,760.1 988.0,755.5 988.8,751.2 989.6,747.5 990.4,744.2 991.2,741.5 992.0,739.4 992.8,737.9 993.6,737.0 994.5,736.5 995.3,736.5 996.1,736.8 996.9,737.6 997.7,738.7 998.5,740.1 999.3,741.7 1000.1,743.5 1000.9,745.5 1001.8,747.8 1002.6,750.1 1003.4,752.7 1004.2,755.3 1005.0,758.1 1005.8,760.9 1006.6,763.8 1007.4,766.8 1008.2,769.8 1009.0,772.9 1009.9,775.9 1010.7,778.9 1011.5,781.9 1012.3,784.9 1013.1,787.7 1013.9,790.6 1014.7,793.4 1015.5,796.1 1016.3,798.8 1017.1,801.4 1018.0,803.9 1018.8,806.4 1019.6,808.8 1020.4,811.2 1021.2,813.4 1022.0,815.7 1022.8,817.9 1023.6,820.2 1024.4,822.5 1025.3,824.9 1026.1,827.4 1026.9,830.1 1027.7,832.8 1028.5,835.7 1029.3,838.7 1030.1,841.8 1030.9,845.0 1031.7,848.2 1032.5,851.6 1033.4,855.1 1034.2,858.7 1035.0,862.3 1035.8,866.1 1036.6,869.8 1037.4,873.7 1038.2,877.5 1039.0,881.3 1039.8,885.1 1040.6,888.9 1041.5,892.6 1042.3,896.2 1043.1,899.7 1043.9,903.1 1044.7,906.4 1045.5,909.5 1046.3,912.5 1047.1,915.4 1047.9,918.1 1048.8,920.8 1049.6,923.3 1050.4,925.6 1051.2,927.9 1052.0,930.1 1052.8,932.1 1053.6,934.0 1054.4,935.8 1055.2,937.5 1056.0,939.1 1056.9,940.6 1057.7,942.0 1058.5,943.2 1059.3,944.4 1060.1,945.5 1060.9,946.5 1061.7,947.4 1062.5,948.2 1063.3,948.9 1064.2,949.6 1065.0,950.2 1065.8,950.7 1066.6,951.2 1067.4,951.6 1068.2,951.9 1069.0,952.3 1069.8,952.6 1070.6,952.8 1071.4,953.1 1072.3,953.4 1073.1,953.6 1073.9,953.8 1074.7,954.0 1075.5,954.2 1076.3,954.4 1077.1,954.6 1077.9,954.8 1078.7,955.0 1079.5,955.1 1080.4,955.3 1081.2,955.4 1082.0,955.6 1082.8,955.7 1083.6,955.8 1084.4,955.9 1085.2,956.0 1086.0,956.1 1086.8,956.2 1087.7,956.3 1088.5,956.4 1089.3,956.5 1090.1,956.6 1090.9,956.6 1091.7,956.7 1092.5,956.8 1093.3,956.9 1094.1,957.0 1094.9,957.0 1095.8,957.1 1096.6,957.1 1097.4,957.2 1098.2,957.2 1099.0,957.2 1099.8,957.2 1100.6,957.2 1101.4,957.3 1102.2,957.3 1103.1,957.3 1103.9,957.3 1104.7,957.3 1105.5,957.3 1106.3,957.3 1107.1,957.4 1107.9,957.4 1108.7,957.4 1109.5,957.4 1110.3,957.4 1111.2,957.4 1112.0,957.4 1112.8,957.4 1113.6,957.4 1114.4,957.4 1115.2,957.4 1116.0,957.4 1116.8,957.4 1117.6,957.4 1118.4,957.4 1119.3,957.4 1120.1,957.4 1120.9,957.4 1121.7,957.4 1122.5,957.4 1123.3,957.4 1124.1,957.4 1124.9,957.4 1125.7,957.4 1126.6,957.4 1127.4,957.4 1128.2,957.4 1129.0,957.4 1129.8,957.4 1130.6,957.4 1131.4,957.4 1132.2,957.4 1133.0,957.4 1133.8,957.4 1134.7,957.4 1135.5,957.4 1136.3,957.4 1137.1,957.4 1137.9,957.4 1138.7,957.4 1139.5,957.4 1140.3,957.4 1141.1,957.4 1141.9,957.4 1345.4,957.4" fill="none" stroke="#000000" stroke-width="1.0" stroke-linejoin="round"/>
<path id="pbotred" d="M109.5,957.4 271.6,957.4 272.4,957.3 273.2,957.3 274.0,957.3 274.8,957.3 275.6,957.3 276.4,957.3 277.3,957.3 278.1,957.3 278.9,957.3 279.7,957.3 280.5,957.3 281.3,957.3 282.1,957.3 282.9,957.3 283.7,957.3 284.5,957.3 285.4,957.3 286.2,957.2 287.0,957.2 287.8,957.2 288.6,957.2 289.4,957.2 290.2,957.2 291.0,957.2 291.8,957.2 292.7,957.2 293.5,957.2 294.3,957.1 295.1,957.1 295.9,957.1 296.7,957.0 297.5,957.0 298.3,956.9 299.1,956.9 299.9,956.8 300.8,956.8 301.6,956.7 302.4,956.6 303.2,956.6 304.0,956.5 304.8,956.4 305.6,956.3 306.4,956.3 307.2,956.2 308.0,956.1 308.9,956.0 309.7,955.9 310.5,955.8 311.3,955.7 312.1,955.6 312.9,955.5 313.7,955.4 314.5,955.3 315.3,955.2 316.2,955.1 317.0,955.0 317.8,954.8 318.6,954.7 319.4,954.6 320.2,954.4 321.0,954.3 321.8,954.1 322.6,953.9 323.4,953.7 324.3,953.6 325.1,953.4 325.9,953.2 326.7,953.0 327.5,952.7 328.3,952.5 329.1,952.3 329.9,952.1 330.7,951.8 331.5,951.6 332.4,951.3 333.2,951.0 334.0,950.7 334.8,950.4 335.6,950.1 336.4,949.7 337.2,949.3 338.0,948.9 338.8,948.5 339.7,948.0 340.5,947.5 341.3,947.0 342.1,946.4 342.9,945.8 343.7,945.2 344.5,944.6 345.3,944.0 346.1,943.3 346.9,942.7 347.8,942.0 348.6,941.3 349.4,940.5 350.2,939.8 351.0,939.0 351.8,938.2 352.6,937.3 353.4,936.5 354.2,935.6 355.1,934.7 355.9,933.7 356.7,932.7 357.5,931.6 358.3,930.4 359.1,929.1 359.9,927.7 360.7,926.1 361.5,924.4 362.3,922.5 363.2,920.5 364.0,918.2 364.8,915.7 365.6,912.9 366.4,909.9 367.2,906.7 368.0,903.2 368.8,899.4 369.6,895.3 370.4,890.9 371.3,886.2 372.1,881.2 372.9,876.0 373.7,870.3 374.5,864.4 375.3,858.1 376.1,851.5 376.9,844.5 377.7,837.2 378.6,829.5 379.4,821.5 380.2,813.1 381.0,804.3 381.8,795.3 382.6,786.1 383.4,776.6 384.2,767.0 385.0,757.3 385.8,747.5 386.7,737.6 387.5,727.8 388.3,718.0 389.1,708.2 389.9,698.5 390.7,688.9 391.5,679.4 392.3,670.0 393.1,660.8 394.0,651.8 394.8,643.0 395.6,634.5 396.4,626.2 397.2,618.2 398.0,610.5 398.8,603.2 399.6,596.2 400.4,589.6 401.2,583.3 402.1,577.5 402.9,572.2 403.7,567.3 404.5,562.8 405.3,558.8 406.1,555.2 406.9,552.1 407.7,549.5 408.5,547.2 409.3,545.3 410.2,543.8 411.0,542.6 411.8,541.8 412.6,541.4 413.4,541.3 414.2,541.5 415.0,542.0 415.8,542.9 416.6,544.2 417.5,545.7 418.3,547.7 419.1,550.0 419.9,552.7 420.7,555.8 421.5,559.3 422.3,563.2 423.1,567.5 423.9,572.2 424.7,577.4 425.6,583.0 426.4,589.0 427.2,595.5 428.0,602.3 428.8,609.5 429.6,616.9 430.4,624.6 431.2,632.4 432.0,640.4 432.8,648.5 433.7,656.6 434.5,664.7 435.3,672.9 436.1,681.0 436.9,689.3 437.7,697.7 438.5,706.1 439.3,714.5 440.1,722.9 441.0,731.3 441.8,739.5 442.6,747.5 443.4,755.4 444.2,763.0 445.0,770.4 445.8,777.4 446.6,784.1 447.4,790.3 448.2,796.1 449.1,801.5 449.9,806.4 450.7,810.9 451.5,815.0 452.3,818.7 453.1,822.0 453.9,824.8 454.7,827.4 455.5,829.5 456.4,831.3 457.2,832.8 458.0,834.0 458.8,834.8 459.6,835.3 460.4,835.6 461.2,835.5 462.0,835.2 462.8,834.5 463.6,833.4 464.5,832.0 465.3,830.1 466.1,827.8 466.9,825.0 467.7,821.8 468.5,818.0 469.3,813.7 470.1,808.8 470.9,803.5 471.7,797.7 472.6,791.4 473.4,784.8 474.2,777.8 475.0,770.4 475.8,762.8 476.6,754.9 477.4,746.7 478.2,738.3 479.0,729.8 479.9,721.1 480.7,712.4 481.5,703.5 482.3,694.7 483.1,685.8 483.9,677.0 484.7,668.3 485.5,659.7 486.3,651.3 487.1,643.1 488.0,635.1 488.8,627.5 489.6,620.1 490.4,613.0 491.2,606.2 492.0,599.8 492.8,593.7 493.6,588.0 494.4,582.7 495.3,577.7 496.1,573.1 496.9,568.8 497.7,564.9 498.5,561.3 499.3,558.0 500.1,555.0 500.9,552.3 501.7,549.9 502.5,547.8 503.4,546.0 504.2,544.6 505.0,543.7 505.8,543.2 506.6,543.2 507.4,543.7 508.2,544.7 509.0,546.2 509.8,548.1 510.6,550.3 511.5,553.0 512.3,556.0 513.1,559.3 513.9,563.0 514.7,567.1 515.5,571.6 516.3,576.4 517.1,581.6 517.9,587.1 518.8,593.0 519.6,599.2 520.4,605.6 521.2,612.4 522.0,619.4 522.8,626.6 523.6,634.0 524.4,641.6 525.2,649.3 526.0,657.1 526.9,665.0 527.7,672.9 528.5,680.9 529.3,689.0 530.1,697.1 530.9,705.1 531.7,713.2 532.5,721.2 533.3,729.2 534.1,737.1 535.0,745.0 535.8,752.7 536.6,760.4 537.4,767.8 538.2,775.0 539.0,782.0 539.8,788.7 540.6,795.1 541.4,801.2 542.3,806.9 543.1,812.2 543.9,817.1 544.7,821.5 545.5,825.5 546.3,829.0 547.1,832.0 547.9,834.7 548.7,836.9 549.5,838.6 550.4,840.0 551.2,841.0 552.0,841.5 552.8,841.7 553.6,841.5 554.4,840.9 555.2,840.0 556.0,838.7 556.8,837.0 557.7,834.9 558.5,832.5 559.3,829.8 560.1,826.6 560.9,823.1 561.7,819.3 562.5,815.1 563.3,810.5 564.1,805.6 564.9,800.4 565.8,794.8 566.6,788.9 567.4,782.6 568.2,776.0 569.0,769.2 569.8,762.2 570.6,755.1 571.4,747.8 572.2,740.6 573.0,733.4 573.9,726.2 574.7,719.1 575.5,711.9 576.3,704.7 577.1,697.3 577.9,689.7 578.7,681.9 579.5,673.9 580.3,665.5 581.2,656.8 582.0,648.1 582.8,639.4 583.6,631.0 584.4,622.8 585.2,614.9 586.0,607.4 586.8,600.2 587.6,593.4 588.4,587.0 589.3,581.0 590.1,575.5 590.9,570.3 591.7,565.6 592.5,561.4 593.3,557.5 594.1,554.1 594.9,551.1 595.7,548.4 596.6,546.2 597.4,544.3 598.2,542.8 599.0,541.7 599.8,540.9 600.6,540.5 601.4,540.4 602.2,540.7 603.0,541.4 603.8,542.5 604.7,544.0 605.5,545.9 606.3,548.2 607.1,551.0 607.9,554.3 608.7,558.0 609.5,562.3 610.3,567.1 611.1,572.5 611.9,578.3 612.8,584.6 613.6,591.4 614.4,598.6 615.2,606.3 616.0,614.4 616.8,622.8 617.6,631.5 618.4,640.0 619.2,648.5 620.1,656.8 620.9,665.0 621.7,673.3 622.5,681.5 623.3,689.9 624.1,698.4 624.9,707.1 625.7,716.0 626.5,725.2 627.3,734.4 628.2,743.6 629.0,752.7 629.8,761.6 630.6,770.2 631.4,778.4 632.2,786.4 633.0,794.1 633.8,801.5 634.6,808.7 635.4,815.5 636.3,822.1 637.1,828.4 637.9,834.5 638.7,840.3 639.5,845.9 640.3,851.2 641.1,856.3 641.9,861.2 642.7,865.8 643.6,870.3 644.4,874.5 645.2,878.6 646.0,882.4 646.8,886.1 647.6,889.6 648.4,892.9 649.2,896.0 650.0,899.0 650.8,901.8 651.7,904.5 652.5,907.1 653.3,909.5 654.1,911.7 654.9,913.9 655.7,915.9 656.5,917.9 657.3,919.7 658.1,921.4 659.0,923.0 659.8,924.6 660.6,926.0 661.4,927.4 662.2,928.8 663.0,930.0 663.8,931.2 664.6,932.4 665.4,933.4 666.2,934.5 667.1,935.4 667.9,936.3 668.7,937.1 669.5,937.8 670.3,938.5 671.1,939.2 671.9,939.7 672.7,940.2 673.5,940.7 674.3,941.0 675.2,941.3 676.0,941.6 676.8,941.8 677.6,941.9 678.4,941.9 679.2,941.9 680.0,941.8 680.8,941.7 681.6,941.5 682.5,941.3 683.3,940.9 684.1,940.5 684.9,940.1 685.7,939.6 686.5,939.0 687.3,938.4 688.1,937.7 688.9,937.0 689.7,936.2 690.6,935.4 691.4,934.5 692.2,933.6 693.0,932.7 693.8,931.8 694.6,930.8 695.4,929.8 696.2,928.9 697.0,927.9 697.9,926.9 698.7,925.9 699.5,924.9 700.3,923.9 701.1,923.0 701.9,922.0 702.7,921.0 703.5,920.0 704.3,918.9 705.1,917.7 706.0,916.5 706.8,915.3 707.6,913.9 708.4,912.5 709.2,910.9 710.0,909.2 710.8,907.4 711.6,905.5 712.4,903.4 713.2,901.1 714.1,898.7 714.9,896.1 715.7,893.3 716.5,890.3 717.3,887.1 718.1,883.6 718.9,880.0 719.7,876.0 720.5,871.9 721.4,867.5 722.2,862.7 723.0,857.7 723.8,852.4 724.6,846.8 725.4,840.8 726.2,834.4 727.0,827.7 727.8,820.5 728.6,812.9 729.5,805.0 730.3,797.0 731.1,788.9 731.9,781.2 732.7,773.8 733.5,767.0 734.3,760.6 735.1,754.6 735.9,749.1 736.7,743.9 737.6,738.9 738.4,733.9 739.2,729.0 740.0,724.0 740.8,719.1 741.6,714.6 742.4,710.6 743.2,707.2 744.0,704.4 744.9,702.3 745.7,700.8 746.5,699.9 747.3,699.4 748.1,699.6 748.9,700.1 749.7,701.2 750.5,702.6 751.3,704.5 752.1,706.7 753.0,709.3 753.8,712.2 754.6,715.3 755.4,718.8 756.2,722.5 757.0,726.4 757.8,730.5 758.6,734.9 759.4,739.5 760.3,744.2 761.1,749.1 761.9,754.1 762.7,759.3 763.5,764.6 764.3,770.0 765.1,775.5 765.9,781.1 766.7,786.7 767.5,792.4 768.4,798.1 769.2,803.8 770.0,809.6 770.8,815.3 771.6,820.9 772.4,826.6 773.2,832.1 774.0,837.6 774.8,843.1 775.6,848.4 776.5,853.5 777.3,858.6 778.1,863.6 778.9,868.4 779.7,873.0 780.5,877.6 781.3,881.9 782.1,886.2 782.9,890.2 783.8,894.1 784.6,897.8 785.4,901.4 786.2,904.7 787.0,907.9 787.8,910.8 788.6,913.6 789.4,916.1 790.2,918.5 791.0,920.7 791.9,922.8 792.7,924.6 793.5,926.3 794.3,927.9 795.1,929.3 795.9,930.6 796.7,931.8 797.5,932.8 798.3,933.7 799.2,934.5 800.0,935.3 800.8,935.9 801.6,936.4 802.4,936.8 803.2,937.2 804.0,937.4 804.8,937.6 805.6,937.7 806.4,937.7 807.3,937.6 808.1,937.4 808.9,937.2 809.7,936.9 810.5,936.5 811.3,936.1 812.1,935.5 812.9,935.0 813.7,934.3 814.5,933.6 815.4,932.8 816.2,932.0 817.0,931.1 817.8,930.1 818.6,929.1 819.4,928.0 820.2,926.9 821.0,925.8 821.8,924.6 822.7,923.3 823.5,922.0 824.3,920.7 825.1,919.3 825.9,917.8 826.7,916.3 827.5,914.7 828.3,913.0 829.1,911.3 829.9,909.4 830.8,907.5 831.6,905.4 832.4,903.2 833.2,900.8 834.0,898.3 834.8,895.7 835.6,892.9 836.4,890.0 837.2,886.8 838.0,883.5 838.9,880.0 839.7,876.3 840.5,872.3 841.3,868.2 842.1,863.9 842.9,859.4 843.7,854.8 844.5,850.1 845.3,845.2 846.2,840.2 847.0,835.2 847.8,830.1 848.6,824.9 849.4,819.7 850.2,814.6 851.0,809.4 851.8,804.3 852.6,799.3 853.4,794.4 854.3,789.8 855.1,785.4 855.9,781.2 856.7,777.5 857.5,774.1 858.3,771.0 859.1,768.2 859.9,765.8 860.7,763.6 861.6,761.8 862.4,760.1 863.2,758.7 864.0,757.6 864.8,756.6 865.6,755.8 866.4,755.2 867.2,754.7 868.0,754.4 868.8,754.2 869.7,754.1 870.5,754.1 871.3,754.1 872.1,754.3 872.9,754.6 873.7,754.9 874.5,755.4 875.3,755.9 876.1,756.6 876.9,757.3 877.8,758.1 878.6,759.0 879.4,760.0 880.2,761.1 881.0,762.2 881.8,763.5 882.6,764.8 883.4,766.2 884.2,767.7 885.1,769.3 885.9,771.1 886.7,773.0 887.5,775.0 888.3,777.2 889.1,779.6 889.9,782.2 890.7,785.0 891.5,787.9 892.3,791.1 893.2,794.6 894.0,798.2 894.8,802.2 895.6,806.3 896.4,810.7 897.2,815.2 898.0,819.9 898.8,824.6 899.6,829.3 900.5,834.0 901.3,838.6 902.1,843.2 902.9,847.7 903.7,852.1 904.5,856.5 905.3,860.7 906.1,864.9 906.9,869.0 907.7,873.0 908.6,877.0 909.4,880.8 910.2,884.5 911.0,888.1 911.8,891.6 912.6,895.0 913.4,898.3 914.2,901.5 915.0,904.5 915.8,907.5 916.7,910.3 917.5,913.0 918.3,915.5 919.1,918.0 919.9,920.3 920.7,922.5 921.5,924.6 922.3,926.5 923.1,928.3 924.0,930.0 924.8,931.5 925.6,932.9 926.4,934.2 927.2,935.3 928.0,936.3 928.8,937.1 929.6,937.8 930.4,938.4 931.2,938.8 932.1,939.2 932.9,939.4 933.7,939.5 934.5,939.5 935.3,939.3 936.1,939.1 936.9,938.8 937.7,938.4 938.5,937.9 939.3,937.4 940.2,936.7 941.0,936.0 941.8,935.2 942.6,934.4 943.4,933.5 944.2,932.5 945.0,931.5 945.8,930.5 946.6,929.4 947.5,928.3 948.3,927.2 949.1,926.0 949.9,924.8 950.7,923.6 951.5,922.4 952.3,921.1 953.1,919.9 953.9,918.6 954.7,917.3 955.6,916.0 956.4,914.6 957.2,913.1 958.0,911.6 958.8,909.9 959.6,908.1 960.4,906.2 961.2,904.2 962.0,902.0 962.9,899.7 963.7,897.2 964.5,894.4 965.3,891.5 966.1,888.4 966.9,885.1 967.7,881.5 968.5,877.7 969.3,873.7 970.1,869.6 971.0,865.2 971.8,860.7 972.6,856.1 973.4,851.3 974.2,846.4 975.0,841.4 975.8,836.2 976.6,831.0 977.4,825.6 978.2,820.2 979.1,814.8 979.9,809.2 980.7,803.7 981.5,798.1 982.3,792.5 983.1,786.8 983.9,781.2 984.7,775.7 985.5,770.3 986.4,765.0 987.2,760.1 988.0,755.5 988.8,751.2 989.6,747.5 990.4,744.2 991.2,741.5 992.0,739.4 992.8,737.9 993.6,737.0 994.5,736.5 995.3,736.5 996.1,736.8 996.9,737.6 997.7,738.7 998.5,740.1 999.3,741.7 1000.1,743.5 1000.9,745.5 1001.8,747.8 1002.6,750.1 1003.4,752.7 1004.2,755.3 1005.0,758.1 1005.8,760.9 1006.6,763.8 1007.4,766.8 1008.2,769.8 1009.0,772.9 1009.9,775.9 1010.7,778.9 1011.5,781.9 1012.3,784.9 1013.1,787.7 1013.9,790.6 1014.7,793.4 1015.5,796.1 1016.3,798.8 1017.1,801.4 1018.0,803.9 1018.8,806.4 1019.6,808.8 1020.4,811.2 1021.2,813.4 1022.0,815.7 1022.8,817.9 1023.6,820.2 1024.4,822.5 1025.3,824.9 1026.1,827.4 1026.9,830.1 1027.7,832.8 1028.5,835.7 1029.3,838.7 1030.1,841.8 1030.9,845.0 1031.7,848.2 1032.5,851.6 1033.4,855.1 1034.2,858.7 1035.0,862.3 1035.8,866.1 1036.6,869.8 1037.4,873.7 1038.2,877.5 1039.0,881.3 1039.8,885.1 1040.6,888.9 1041.5,892.6 1042.3,896.2 1043.1,899.7 1043.9,903.1 1044.7,906.4 1045.5,909.5 1046.3,912.5 1047.1,915.4 1047.9,918.1 1048.8,920.8 1049.6,923.3 1050.4,925.6 1051.2,927.9 1052.0,930.1 1052.8,932.1 1053.6,934.0 1054.4,935.8 1055.2,937.5 1056.0,939.1 1056.9,940.6 1057.7,942.0 1058.5,943.2 1059.3,944.4 1060.1,945.5 1060.9,946.5 1061.7,947.4 1062.5,948.2 1063.3,948.9 1064.2,949.6 1065.0,950.2 1065.8,950.7 1066.6,951.2 1067.4,951.6 1068.2,951.9 1069.0,952.3 1069.8,952.6 1070.6,952.8 1071.4,953.1 1072.3,953.4 1073.1,953.6 1073.9,953.8 1074.7,954.0 1075.5,954.2 1076.3,954.4 1077.1,954.6 1077.9,954.8 1078.7,955.0 1079.5,955.1 1080.4,955.3 1081.2,955.4 1082.0,955.6 1082.8,955.7 1083.6,955.8 1084.4,955.9 1085.2,956.0 1086.0,956.1 1086.8,956.2 1087.7,956.3 1088.5,956.4 1089.3,956.5 1090.1,956.6 1090.9,956.6 1091.7,956.7 1092.5,956.8 1093.3,956.9 1094.1,957.0 1094.9,957.0 1095.8,957.1 1096.6,957.1 1097.4,957.2 1098.2,957.2 1099.0,957.2 1099.8,957.2 1100.6,957.2 1101.4,957.3 1102.2,957.3 1103.1,957.3 1103.9,957.3 1104.7,957.3 1105.5,957.3 1106.3,957.3 1107.1,957.4 1107.9,957.4 1108.7,957.4 1109.5,957.4 1110.3,957.4 1111.2,957.4 1112.0,957.4 1112.8,957.4 1113.6,957.4 1114.4,957.4 1115.2,957.4 1116.0,957.4 1116.8,957.4 1117.6,957.4 1118.4,957.4 1119.3,957.4 1120.1,957.4 1120.9,957.4 1121.7,957.4 1122.5,957.4 1123.3,957.4 1124.1,957.4 1124.9,957.4 1125.7,957.4 1126.6,957.4 1127.4,957.4 1128.2,957.4 1129.0,957.4 1129.8,957.4 1130.6,957.4 1131.4,957.4 1132.2,957.4 1133.0,957.4 1133.8,957.4 1134.7,957.4 1135.5,957.4 1136.3,957.4 1137.1,957.4 1137.9,957.4 1138.7,957.4 1139.5,957.4 1140.3,957.4 1141.1,957.4 1141.9,957.4 1345.4,957.4" fill="none" stroke="#ee2a2a" stroke-width="1.2" stroke-linejoin="round"/>
<path id="pbotblue" d="M109.5,957.4 271.6,957.4 272.4,957.3 273.2,957.3 274.0,957.3 274.8,957.3 275.6,957.3 276.4,957.3 277.3,957.3 278.1,957.3 278.9,957.3 279.7,957.3 280.5,957.3 281.3,957.3 282.1,957.3 282.9,957.3 283.7,957.3 284.5,957.3 285.4,957.3 286.2,957.2 287.0,957.2 287.8,957.2 288.6,957.2 289.4,957.2 290.2,957.2 291.0,957.2 291.8,957.2 292.7,957.2 293.5,957.2 294.3,957.1 295.1,957.1 295.9,957.1 296.7,957.0 297.5,957.0 298.3,957.0 299.1,956.9 299.9,956.9 300.8,956.8 301.6,956.7 302.4,956.7 303.2,956.6 304.0,956.5 304.8,956.5 305.6,956.4 306.4,956.3 307.2,956.2 308.0,956.1 308.9,956.1 309.7,956.0 310.5,955.9 311.3,955.8 312.1,955.7 312.9,955.6 313.7,955.5 314.5,955.4 315.3,955.3 316.2,955.2 317.0,955.1 317.8,955.0 318.6,954.9 319.4,954.8 320.2,954.6 321.0,954.5 321.8,954.4 322.6,954.2 323.4,954.1 324.3,953.9 325.1,953.7 325.9,953.6 326.7,953.4 327.5,953.2 328.3,953.0 329.1,952.8 329.9,952.7 330.7,952.5 331.5,952.2 332.4,952.0 333.2,951.8 334.0,951.5 334.8,951.3 335.6,951.0 336.4,950.7 337.2,950.3 338.0,949.9 338.8,949.5 339.7,949.1 340.5,948.7 341.3,948.2 342.1,947.6 342.9,947.1 343.7,946.6 344.5,946.0 345.3,945.4 346.1,944.8 346.9,944.2 347.8,943.5 348.6,942.8 349.4,942.1 350.2,941.4 351.0,940.6 351.8,939.8 352.6,939.0 353.4,938.2 354.2,937.3 355.1,936.4 355.9,935.4 356.7,934.4 357.5,933.3 358.3,932.1 359.1,930.8 359.9,929.4 360.7,927.8 361.5,926.1 362.3,924.2 363.2,922.1 364.0,919.8 364.8,917.2 365.6,914.4 366.4,911.4 367.2,908.1 368.0,904.6 368.8,900.7 369.6,896.6 370.4,892.2 371.3,887.5 372.1,882.4 372.9,877.1 373.7,871.4 374.5,865.5 375.3,859.1 376.1,852.5 376.9,845.5 377.7,838.1 378.6,830.4 379.4,822.3 380.2,813.8 381.0,805.0 381.8,796.0 382.6,786.7 383.4,777.2 384.2,767.5 385.0,757.8 385.8,747.9 386.7,738.0 387.5,728.1 388.3,718.3 389.1,708.4 389.9,698.7 390.7,689.0 391.5,679.4 392.3,669.9 393.1,660.6 394.0,651.4 394.8,642.4 395.6,633.7 396.4,625.1 397.2,616.8 398.0,608.8 398.8,601.1 399.6,593.7 400.4,586.6 401.2,579.9 402.1,573.6 402.9,567.6 403.7,562.1 404.5,557.0 405.3,552.4 406.1,548.3 406.9,544.6 407.7,541.3 408.5,538.6 409.3,536.2 410.2,534.4 411.0,532.9 411.8,532.0 412.6,531.4 413.4,531.3 414.2,531.7 415.0,532.4 415.8,533.7 416.6,535.3 417.5,537.3 418.3,539.8 419.1,542.7 419.9,546.1 420.7,549.8 421.5,554.0 422.3,558.5 423.1,563.5 423.9,568.9 424.7,574.7 425.6,580.9 426.4,587.5 427.2,594.4 428.0,601.8 428.8,609.4 429.6,617.2 430.4,625.3 431.2,633.5 432.0,641.8 432.8,650.2 433.7,658.7 434.5,667.1 435.3,675.5 436.1,683.9 436.9,692.5 437.7,701.1 438.5,709.8 439.3,718.5 440.1,727.2 441.0,735.8 441.8,744.3 442.6,752.7 443.4,760.8 444.2,768.7 445.0,776.4 445.8,783.7 446.6,790.6 447.4,797.2 448.2,803.2 449.1,808.9 449.9,814.0 450.7,818.8 451.5,823.1 452.3,827.0 453.1,830.4 453.9,833.5 454.7,836.2 455.5,838.5 456.4,840.4 457.2,842.0 458.0,843.2 458.8,844.1 459.6,844.7 460.4,844.9 461.2,844.9 462.0,844.5 462.8,843.7 463.6,842.6 464.5,841.0 465.3,839.0 466.1,836.6 466.9,833.6 467.7,830.2 468.5,826.2 469.3,821.7 470.1,816.6 470.9,811.0 471.7,805.0 472.6,798.5 473.4,791.6 474.2,784.3 475.0,776.6 475.8,768.7 476.6,760.5 477.4,752.0 478.2,743.3 479.0,734.5 479.9,725.5 480.7,716.5 481.5,707.3 482.3,698.1 483.1,688.9 483.9,679.7 484.7,670.6 485.5,661.6 486.3,652.7 487.1,644.0 488.0,635.5 488.8,627.2 489.6,619.1 490.4,611.3 491.2,603.7 492.0,596.3 492.8,589.2 493.6,582.4 494.4,575.9 495.3,569.7 496.1,563.7 496.9,558.1 497.7,552.8 498.5,547.9 499.3,543.3 500.1,539.0 500.9,535.1 501.7,531.6 502.5,528.5 503.4,526.0 504.2,524.0 505.0,522.7 505.8,522.0 506.6,522.1 507.4,522.9 508.2,524.4 509.0,526.5 509.8,529.3 510.6,532.5 511.5,536.3 512.3,540.5 513.1,545.2 513.9,550.3 514.7,555.7 515.5,561.5 516.3,567.7 517.1,574.1 517.9,580.9 518.8,587.9 519.6,595.1 520.4,602.6 521.2,610.2 522.0,618.0 522.8,625.9 523.6,634.0 524.4,642.1 525.2,650.4 526.0,658.6 526.9,667.0 527.7,675.3 528.5,683.7 529.3,692.1 530.1,700.5 530.9,708.9 531.7,717.3 532.5,725.6 533.3,733.9 534.1,742.1 535.0,750.3 535.8,758.4 536.6,766.3 537.4,774.0 538.2,781.5 539.0,788.8 539.8,795.8 540.6,802.5 541.4,808.8 542.3,814.8 543.1,820.3 543.9,825.4 544.7,830.0 545.5,834.2 546.3,837.8 547.1,841.1 547.9,843.8 548.7,846.1 549.5,848.0 550.4,849.4 551.2,850.4 552.0,851.0 552.8,851.2 553.6,851.0 554.4,850.4 555.2,849.3 556.0,847.9 556.8,846.1 557.7,843.9 558.5,841.4 559.3,838.4 560.1,835.1 560.9,831.4 561.7,827.3 562.5,822.9 563.3,818.1 564.1,812.9 564.9,807.4 565.8,801.5 566.6,795.3 567.4,788.8 568.2,781.9 569.0,774.8 569.8,767.5 570.6,760.1 571.4,752.6 572.2,745.0 573.0,737.5 573.9,730.1 574.7,722.7 575.5,715.2 576.3,707.7 577.1,700.1 577.9,692.3 578.7,684.2 579.5,675.9 580.3,667.2 581.2,658.2 582.0,649.1 582.8,640.1 583.6,631.3 584.4,622.8 585.2,614.5 586.0,606.5 586.8,598.8 587.6,591.4 588.4,584.4 589.3,577.8 590.1,571.6 590.9,565.8 591.7,560.4 592.5,555.4 593.3,550.8 594.1,546.7 594.9,543.0 595.7,539.7 596.6,536.8 597.4,534.5 598.2,532.5 599.0,531.0 599.8,530.0 600.6,529.5 601.4,529.4 602.2,529.8 603.0,530.7 603.8,532.1 604.7,534.0 605.5,536.3 606.3,539.2 607.1,542.6 607.9,546.6 608.7,551.0 609.5,556.0 610.3,561.4 611.1,567.4 611.9,573.9 612.8,580.7 613.6,588.1 614.4,595.8 615.2,603.9 616.0,612.4 616.8,621.2 617.6,630.2 618.4,639.0 619.2,647.7 620.1,656.2 620.9,664.6 621.7,673.0 622.5,681.4 623.3,689.8 624.1,698.4 624.9,707.2 625.7,716.2 626.5,725.4 627.3,734.7 628.2,743.9 629.0,753.0 629.8,762.0 630.6,770.6 631.4,778.9 632.2,787.0 633.0,794.7 633.8,802.1 634.6,809.3 635.4,816.2 636.3,822.9 637.1,829.2 637.9,835.4 638.7,841.2 639.5,846.8 640.3,852.2 641.1,857.4 641.9,862.3 642.7,867.1 643.6,871.6 644.4,875.9 645.2,880.0 646.0,883.9 646.8,887.6 647.6,891.1 648.4,894.5 649.2,897.7 650.0,900.7 650.8,903.6 651.7,906.4 652.5,908.9 653.3,911.4 654.1,913.7 654.9,915.9 655.7,918.0 656.5,919.9 657.3,921.8 658.1,923.5 659.0,925.2 659.8,926.8 660.6,928.3 661.4,929.7 662.2,931.0 663.0,932.3 663.8,933.5 664.6,934.6 665.4,935.7 666.2,936.7 667.1,937.6 667.9,938.5 668.7,939.3 669.5,940.0 670.3,940.7 671.1,941.3 671.9,941.9 672.7,942.3 673.5,942.7 674.3,943.1 675.2,943.4 676.0,943.6 676.8,943.7 677.6,943.8 678.4,943.8 679.2,943.8 680.0,943.7 680.8,943.5 681.6,943.3 682.5,943.0 683.3,942.6 684.1,942.2 684.9,941.7 685.7,941.2 686.5,940.5 687.3,939.9 688.1,939.1 688.9,938.4 689.7,937.5 690.6,936.7 691.4,935.8 692.2,934.9 693.0,933.9 693.8,932.9 694.6,931.9 695.4,930.9 696.2,929.9 697.0,928.9 697.9,927.8 698.7,926.8 699.5,925.8 700.3,924.8 701.1,923.8 701.9,922.8 702.7,921.7 703.5,920.7 704.3,919.5 705.1,918.4 706.0,917.1 706.8,915.8 707.6,914.4 708.4,913.0 709.2,911.4 710.0,909.7 710.8,907.8 711.6,905.9 712.4,903.7 713.2,901.5 714.1,899.0 714.9,896.4 715.7,893.6 716.5,890.5 717.3,887.3 718.1,883.9 718.9,880.2 719.7,876.2 720.5,872.1 721.4,867.6 722.2,862.9 723.0,857.9 723.8,852.6 724.6,846.9 725.4,840.9 726.2,834.5 727.0,827.8 727.8,820.6 728.6,813.0 729.5,805.1 730.3,797.0 731.1,789.0 731.9,781.2 732.7,773.9 733.5,767.0 734.3,760.6 735.1,754.6 735.9,749.1 736.7,743.9 737.6,738.9 738.4,734.0 739.2,729.0 740.0,724.0 740.8,719.2 741.6,714.6 742.4,710.6 743.2,707.2 744.0,704.4 744.9,702.3 745.7,700.8 746.5,699.9 747.3,699.5 748.1,699.6 748.9,700.1 749.7,701.2 750.5,702.6 751.3,704.5 752.1,706.7 753.0,709.3 753.8,712.2 754.6,715.3 755.4,718.8 756.2,722.5 757.0,726.4 757.8,730.6 758.6,734.9 759.4,739.5 760.3,744.2 761.1,749.1 761.9,754.2 762.7,759.4 763.5,764.7 764.3,770.1 765.1,775.6 765.9,781.2 766.7,786.8 767.5,792.5 768.4,798.2 769.2,803.9 770.0,809.7 770.8,815.4 771.6,821.1 772.4,826.7 773.2,832.3 774.0,837.8 774.8,843.2 775.6,848.6 776.5,853.8 777.3,858.9 778.1,863.8 778.9,868.6 779.7,873.3 780.5,877.9 781.3,882.3 782.1,886.5 782.9,890.6 783.8,894.5 784.6,898.3 785.4,901.9 786.2,905.2 787.0,908.4 787.8,911.4 788.6,914.2 789.4,916.8 790.2,919.2 791.0,921.4 791.9,923.5 792.7,925.4 793.5,927.1 794.3,928.7 795.1,930.2 795.9,931.5 796.7,932.7 797.5,933.7 798.3,934.7 799.2,935.5 800.0,936.2 800.8,936.9 801.6,937.4 802.4,937.8 803.2,938.2 804.0,938.4 804.8,938.6 805.6,938.7 806.4,938.7 807.3,938.6 808.1,938.4 808.9,938.2 809.7,937.9 810.5,937.5 811.3,937.0 812.1,936.5 812.9,935.9 813.7,935.2 814.5,934.4 815.4,933.6 816.2,932.8 817.0,931.8 817.8,930.9 818.6,929.8 819.4,928.7 820.2,927.6 821.0,926.4 821.8,925.1 822.7,923.9 823.5,922.5 824.3,921.2 825.1,919.7 825.9,918.3 826.7,916.7 827.5,915.1 828.3,913.4 829.1,911.6 829.9,909.7 830.8,907.7 831.6,905.6 832.4,903.4 833.2,901.1 834.0,898.6 834.8,895.9 835.6,893.1 836.4,890.1 837.2,887.0 838.0,883.6 838.9,880.1 839.7,876.4 840.5,872.4 841.3,868.3 842.1,864.0 842.9,859.5 843.7,854.9 844.5,850.1 845.3,845.2 846.2,840.3 847.0,835.2 847.8,830.1 848.6,825.0 849.4,819.8 850.2,814.6 851.0,809.4 851.8,804.3 852.6,799.3 853.4,794.4 854.3,789.8 855.1,785.4 855.9,781.3 856.7,777.5 857.5,774.1 858.3,771.0 859.1,768.3 859.9,765.8 860.7,763.7 861.6,761.8 862.4,760.1 863.2,758.7 864.0,757.6 864.8,756.6 865.6,755.8 866.4,755.2 867.2,754.7 868.0,754.4 868.8,754.2 869.7,754.1 870.5,754.1 871.3,754.1 872.1,754.3 872.9,754.6 873.7,755.0 874.5,755.4 875.3,755.9 876.1,756.6 876.9,757.3 877.8,758.1 878.6,759.0 879.4,760.0 880.2,761.1 881.0,762.2 881.8,763.5 882.6,764.8 883.4,766.2 884.2,767.7 885.1,769.3 885.9,771.1 886.7,773.0 887.5,775.1 888.3,777.3 889.1,779.7 889.9,782.2 890.7,785.0 891.5,788.0 892.3,791.2 893.2,794.6 894.0,798.3 894.8,802.2 895.6,806.4 896.4,810.8 897.2,815.3 898.0,820.0 898.8,824.7 899.6,829.4 900.5,834.1 901.3,838.8 902.1,843.3 902.9,847.9 903.7,852.3 904.5,856.7 905.3,861.0 906.1,865.2 906.9,869.3 907.7,873.3 908.6,877.3 909.4,881.1 910.2,884.9 911.0,888.5 911.8,892.0 912.6,895.5 913.4,898.8 914.2,902.0 915.0,905.1 915.8,908.0 916.7,910.9 917.5,913.6 918.3,916.2 919.1,918.7 919.9,921.0 920.7,923.3 921.5,925.3 922.3,927.3 923.1,929.1 924.0,930.8 924.8,932.4 925.6,933.8 926.4,935.1 927.2,936.2 928.0,937.2 928.8,938.1 929.6,938.8 930.4,939.4 931.2,939.9 932.1,940.2 932.9,940.4 933.7,940.5 934.5,940.5 935.3,940.4 936.1,940.1 936.9,939.8 937.7,939.4 938.5,938.9 939.3,938.3 940.2,937.7 941.0,936.9 941.8,936.1 942.6,935.3 943.4,934.3 944.2,933.4 945.0,932.3 945.8,931.3 946.6,930.2 947.5,929.0 948.3,927.8 949.1,926.6 949.9,925.4 950.7,924.2 951.5,922.9 952.3,921.7 953.1,920.4 953.9,919.1 954.7,917.8 955.6,916.4 956.4,915.0 957.2,913.5 958.0,911.9 958.8,910.2 959.6,908.4 960.4,906.5 961.2,904.4 962.0,902.2 962.9,899.9 963.7,897.3 964.5,894.6 965.3,891.7 966.1,888.5 966.9,885.2 967.7,881.6 968.5,877.8 969.3,873.8 970.1,869.6 971.0,865.3 971.8,860.8 972.6,856.2 973.4,851.4 974.2,846.4 975.0,841.4 975.8,836.2 976.6,831.0 977.4,825.7 978.2,820.3 979.1,814.8 979.9,809.3 980.7,803.7 981.5,798.1 982.3,792.5 983.1,786.8 983.9,781.2 984.7,775.7 985.5,770.3 986.4,765.0 987.2,760.1 988.0,755.5 988.8,751.2 989.6,747.5 990.4,744.2 991.2,741.5 992.0,739.4 992.8,737.9 993.6,737.0 994.5,736.5 995.3,736.5 996.1,736.8 996.9,737.6 997.7,738.7 998.5,740.1 999.3,741.7 1000.1,743.5 1000.9,745.5 1001.8,747.8 1002.6,750.1 1003.4,752.7 1004.2,755.3 1005.0,758.1 1005.8,760.9 1006.6,763.8 1007.4,766.8 1008.2,769.8 1009.0,772.9 1009.9,775.9 1010.7,778.9 1011.5,781.9 1012.3,784.9 1013.1,787.7 1013.9,790.6 1014.7,793.4 1015.5,796.1 1016.3,798.8 1017.1,801.4 1018.0,803.9 1018.8,806.4 1019.6,808.8 1020.4,811.2 1021.2,813.4 1022.0,815.7 1022.8,817.9 1023.6,820.2 1024.4,822.5 1025.3,824.9 1026.1,827.4 1026.9,830.1 1027.7,832.8 1028.5,835.7 1029.3,838.7 1030.1,841.8 1030.9,845.0 1031.7,848.2 1032.5,851.6 1033.4,855.1 1034.2,858.7 1035.0,862.3 1035.8,866.1 1036.6,869.8 1037.4,873.7 1038.2,877.5 1039.0,881.3 1039.8,885.1 1040.6,888.9 1041.5,892.6 1042.3,896.2 1043.1,899.7 1043.9,903.1 1044.7,906.4 1045.5,909.5 1046.3,912.5 1047.1,915.4 1047.9,918.1 1048.8,920.8 1049.6,923.3 1050.4,925.6 1051.2,927.9 1052.0,930.1 1052.8,932.1 1053.6,934.0 1054.4,935.8 1055.2,937.5 1056.0,939.1 1056.9,940.6 1057.7,942.0 1058.5,943.2 1059.3,944.4 1060.1,945.5 1060.9,946.5 1061.7,947.4 1062.5,948.2 1063.3,948.9 1064.2,949.6 1065.0,950.2 1065.8,950.7 1066.6,951.2 1067.4,951.6 1068.2,951.9 1069.0,952.3 1069.8,952.6 1070.6,952.8 1071.4,953.1 1072.3,953.4 1073.1,953.6 1073.9,953.8 1074.7,954.0 1075.5,954.2 1076.3,954.4 1077.1,954.6 1077.9,954.8 1078.7,955.0 1079.5,955.1 1080.4,955.3 1081.2,955.4 1082.0,955.6 1082.8,955.7 1083.6,955.8 1084.4,955.9 1085.2,956.0 1086.0,956.1 1086.8,956.2 1087.7,956.3 1088.5,956.4 1089.3,956.5 1090.1,956.6 1090.9,956.6 1091.7,956.7 1092.5,956.8 1093.3,956.9 1094.1,957.0 1094.9,957.0 1095.8,957.1 1096.6,957.1 1097.4,957.2 1098.2,957.2 1099.0,957.2 1099.8,957.2 1100.6,957.2 1101.4,957.3 1102.2,957.3 1103.1,957.3 1103.9,957.3 1104.7,957.3 1105.5,957.3 1106.3,957.3 1107.1,957.4 1107.9,957.4 1108.7,957.4 1109.5,957.4 1110.3,957.4 1111.2,957.4 1112.0,957.4 1112.8,957.4 1113.6,957.4 1114.4,957.4 1115.2,957.4 1116.0,957.4 1116.8,957.4 1117.6,957.4 1118.4,957.4 1119.3,957.4 1120.1,957.4 1120.9,957.4 1121.7,957.4 1122.5,957.4 1123.3,957.4 1124.1,957.4 1124.9,957.4 1125.7,957.4 1126.6,957.4 1127.4,957.4 1128.2,957.4 1129.0,957.4 1129.8,957.4 1130.6,957.4 1131.4,957.4 1132.2,957.4 1133.0,957.4 1133.8,957.4 1134.7,957.4 1135.5,957.4 1136.3,957.4 1137.1,957.4 1137.9,957.4 1138.7,957.4 1139.5,957.4 1140.3,957.4 1141.1,957.4 1141.9,957.4 1345.4,957.4" fill="none" stroke="#3030ff" stroke-width="1.5" stroke-linejoin="round"/>
<g clip-path="url(#cBotHi)" stroke-width="2.6">
<use href="#pbotblack" style="stroke-width:2.4"/>
<use href="#pbotred" style="stroke-width:2.4"/>
<use href="#pbotblue" style="stroke-width:2.7"/>
</g>
<g class="mb">
<circle cx="413.1" cy="633.6" r="48.6" fill="url(#gM)"/><circle cx="419.2" cy="636.4" r="4.4" fill="url(#gHL)"/>
<circle cx="413.1" cy="731.8" r="48.6" fill="url(#gM)"/><circle cx="419.2" cy="732.6" r="4.4" fill="url(#gHL)"/>
<circle cx="413.1" cy="829.9" r="48.6" fill="url(#gM)"/><circle cx="419.2" cy="829.6" r="4.4" fill="url(#gHL)"/>
<circle cx="505.8" cy="666.2" r="48.6" fill="url(#gM)"/><circle cx="510.5" cy="669.0" r="4.4" fill="url(#gHL)"/>
<circle cx="505.8" cy="764.3" r="48.6" fill="url(#gM)"/><circle cx="510.5" cy="765.1" r="4.4" fill="url(#gHL)"/>
<circle cx="505.8" cy="862.3" r="48.6" fill="url(#gM)"/><circle cx="510.5" cy="862.0" r="4.4" fill="url(#gHL)"/>
<circle cx="599.8" cy="698.6" r="48.6" fill="url(#gM)"/><circle cx="603.6" cy="701.4" r="4.4" fill="url(#gHL)"/>
<circle cx="599.8" cy="796.7" r="48.6" fill="url(#gM)"/><circle cx="603.6" cy="797.5" r="4.4" fill="url(#gHL)"/>
<circle cx="599.8" cy="894.8" r="48.6" fill="url(#gM)"/><circle cx="603.6" cy="894.5" r="4.4" fill="url(#gHL)"/>
<circle cx="737.0" cy="664.5" r="11" fill="url(#gHs)"/>
<circle cx="741.9" cy="653.7" r="11.2" fill="url(#gH)"/>
<circle cx="753.5" cy="697.9" r="23.5" fill="url(#gO)"/>
<circle cx="737.6" cy="690.3" r="23.5" fill="url(#gO)"/>
<circle cx="697.0" cy="696.1" r="11.2" fill="url(#gH)"/>
<circle cx="750.2" cy="754.2" r="11" fill="url(#gH)"/>
<circle cx="739.3" cy="756.9" r="11.2" fill="url(#gH)"/>
<circle cx="763.8" cy="791.0" r="23.5" fill="url(#gO)"/>
<circle cx="737.4" cy="791.4" r="23.5" fill="url(#gO)"/>
<circle cx="697.5" cy="798.3" r="10.9" fill="url(#gH)"/>
<circle cx="742.7" cy="843.7" r="11" fill="url(#gH)"/>
<circle cx="749.3" cy="856.5" r="11" fill="url(#gH)"/>
<circle cx="738.6" cy="879.4" r="23.5" fill="url(#gO)"/>
<circle cx="763.0" cy="890.0" r="23.5" fill="url(#gO)"/>
<circle cx="698.2" cy="885.8" r="11" fill="url(#gH)"/>
<circle cx="868.3" cy="654.2" r="10.5" fill="url(#gHs)"/>
<circle cx="863.5" cy="657.8" r="11" fill="url(#gH)"/>
<circle cx="883.3" cy="688.2" r="23.5" fill="url(#gO)"/>
<circle cx="877.0" cy="688.0" r="9" fill="url(#gH)"/>
<circle cx="855.2" cy="691.4" r="23.5" fill="url(#gO)"/>
<circle cx="814.9" cy="695.0" r="11.1" fill="url(#gH)"/>
<circle cx="873.0" cy="761.7" r="11" fill="url(#gH)"/>
<circle cx="862.1" cy="753.4" r="11" fill="url(#gH)"/>
<circle cx="891.0" cy="793.4" r="23.4" fill="url(#gO)"/>
<circle cx="882.1" cy="792.3" r="10" fill="url(#gH)"/>
<circle cx="860.3" cy="788.5" r="23.4" fill="url(#gO)"/>
<circle cx="820.8" cy="796.3" r="11" fill="url(#gH)"/>
<circle cx="859.4" cy="855.3" r="11" fill="url(#gH)"/>
<circle cx="874.8" cy="862.4" r="11" fill="url(#gH)"/>
<circle cx="851.0" cy="891.6" r="23" fill="url(#gO)"/>
<circle cx="889.4" cy="895.5" r="23" fill="url(#gO)"/>
<circle cx="811.0" cy="892.2" r="11" fill="url(#gH)"/>
<circle cx="1025.4" cy="610.3" r="23.5" fill="url(#gO)"/>
<circle cx="993.9" cy="621.8" r="11.2" fill="url(#gH)"/>
<circle cx="1005.3" cy="667.4" r="10.8" fill="url(#gHs)"/>
<circle cx="992.5" cy="702.5" r="23.5" fill="url(#gO)"/>
<circle cx="985.6" cy="688.4" r="23.6" fill="url(#gO)"/>
<circle cx="1000.5" cy="693.4" r="11.1" fill="url(#gH)"/>
<circle cx="943.7" cy="688.2" r="11.2" fill="url(#gH)"/>
<circle cx="952.2" cy="702.1" r="11.2" fill="url(#gH)"/>
<circle cx="1009.3" cy="753.4" r="10.5" fill="url(#gHs)"/>
<circle cx="989.2" cy="751.5" r="10.5" fill="url(#gH)"/>
<circle cx="1009.7" cy="787.6" r="9" fill="url(#gH)"/>
<circle cx="1022.3" cy="789.0" r="24" fill="url(#gB)"/>
<circle cx="983.6" cy="786.3" r="23.4" fill="url(#gO)"/>
<circle cx="943.2" cy="792.3" r="11" fill="url(#gH)"/>
<circle cx="1009.9" cy="824.4" r="11" fill="url(#gH)"/>
<circle cx="991.3" cy="878.0" r="23" fill="url(#gO)"/>
<circle cx="1011.7" cy="873.4" r="11" fill="url(#gH)"/>
<circle cx="952.2" cy="871.6" r="11" fill="url(#gH)"/>
</g>
<circle cx="117.60" cy="957.40" r="6.7" fill="#4646ff" stroke="#333" stroke-width="1.3"/>
<circle cx="131.38" cy="957.40" r="6.7" fill="#444" stroke="#333" stroke-width="1.3"/>
<circle cx="460.28" cy="832.68" r="6.7" fill="#444" stroke="#333" stroke-width="1.3"/>
<circle cx="460.28" cy="835.55" r="6.7" fill="#e02828" stroke="#333" stroke-width="1.3"/>
<circle cx="460.28" cy="844.91" r="6.7" fill="#2020cc" stroke="#333" stroke-width="1.3"/>
<circle cx="552.30" cy="838.90" r="6.7" fill="#444" stroke="#333" stroke-width="1.3"/>
<circle cx="552.30" cy="841.70" r="6.7" fill="#f43c3c" stroke="#333" stroke-width="1.3"/>
<circle cx="552.30" cy="851.19" r="6.7" fill="#4444ff" stroke="#333" stroke-width="1.3"/>
<circle cx="679.62" cy="943.06" r="6.7" fill="#444" stroke="#333" stroke-width="1.3"/>
<circle cx="679.62" cy="944.42" r="6.7" fill="#4646ff" stroke="#333" stroke-width="1.3"/>
<circle cx="804.82" cy="938.28" r="6.7" fill="#444" stroke="#333" stroke-width="1.3"/>
<circle cx="804.82" cy="939.37" r="6.7" fill="#4646ff" stroke="#333" stroke-width="1.3"/>
<circle cx="933.47" cy="939.64" r="6.7" fill="#444" stroke="#333" stroke-width="1.3"/>
<circle cx="933.47" cy="940.80" r="6.7" fill="#4646ff" stroke="#333" stroke-width="1.3"/>
<circle cx="1334.42" cy="957.40" r="6.7" fill="#4646ff" stroke="#333" stroke-width="1.3"/>
</g>
<line x1="109.5" y1="275.00" x2="120.6" y2="275.00" stroke="#444" stroke-width="1.3"/>
<line x1="1331.5" y1="275.00" x2="1342.3" y2="275.00" stroke="#444" stroke-width="1.3"/>
<line x1="109.5" y1="70.10" x2="120.6" y2="70.10" stroke="#444" stroke-width="1.3"/>
<line x1="1331.5" y1="70.10" x2="1342.3" y2="70.10" stroke="#444" stroke-width="1.3"/>
<line x1="312.10" y1="479.90" x2="312.10" y2="469.30" stroke="#444" stroke-width="1.3"/>
<line x1="312.10" y1="2.40" x2="312.10" y2="13.00" stroke="#444" stroke-width="1.3"/>
<line x1="514.70" y1="479.90" x2="514.70" y2="469.30" stroke="#444" stroke-width="1.3"/>
<line x1="514.70" y1="2.40" x2="514.70" y2="13.00" stroke="#444" stroke-width="1.3"/>
<line x1="717.30" y1="479.90" x2="717.30" y2="469.30" stroke="#444" stroke-width="1.3"/>
<line x1="717.30" y1="2.40" x2="717.30" y2="13.00" stroke="#444" stroke-width="1.3"/>
<line x1="919.90" y1="479.90" x2="919.90" y2="469.30" stroke="#444" stroke-width="1.3"/>
<line x1="919.90" y1="2.40" x2="919.90" y2="13.00" stroke="#444" stroke-width="1.3"/>
<line x1="1122.50" y1="479.90" x2="1122.50" y2="469.30" stroke="#444" stroke-width="1.3"/>
<line x1="1122.50" y1="2.40" x2="1122.50" y2="13.00" stroke="#444" stroke-width="1.3"/>
<line x1="1325.10" y1="479.90" x2="1325.10" y2="469.30" stroke="#444" stroke-width="1.3"/>
<line x1="1325.10" y1="2.40" x2="1325.10" y2="13.00" stroke="#444" stroke-width="1.3"/>
<line x1="109.5" y1="752.50" x2="120.6" y2="752.50" stroke="#444" stroke-width="1.3"/>
<line x1="1331.5" y1="752.50" x2="1342.3" y2="752.50" stroke="#444" stroke-width="1.3"/>
<line x1="109.5" y1="547.60" x2="120.6" y2="547.60" stroke="#444" stroke-width="1.3"/>
<line x1="1331.5" y1="547.60" x2="1342.3" y2="547.60" stroke="#444" stroke-width="1.3"/>
<line x1="312.10" y1="957.40" x2="312.10" y2="946.80" stroke="#444" stroke-width="1.3"/>
<line x1="312.10" y1="479.90" x2="312.10" y2="490.50" stroke="#444" stroke-width="1.3"/>
<line x1="514.70" y1="957.40" x2="514.70" y2="946.80" stroke="#444" stroke-width="1.3"/>
<line x1="514.70" y1="479.90" x2="514.70" y2="490.50" stroke="#444" stroke-width="1.3"/>
<line x1="717.30" y1="957.40" x2="717.30" y2="946.80" stroke="#444" stroke-width="1.3"/>
<line x1="717.30" y1="479.90" x2="717.30" y2="490.50" stroke="#444" stroke-width="1.3"/>
<line x1="919.90" y1="957.40" x2="919.90" y2="946.80" stroke="#444" stroke-width="1.3"/>
<line x1="919.90" y1="479.90" x2="919.90" y2="490.50" stroke="#444" stroke-width="1.3"/>
<line x1="1122.50" y1="957.40" x2="1122.50" y2="946.80" stroke="#444" stroke-width="1.3"/>
<line x1="1122.50" y1="479.90" x2="1122.50" y2="490.50" stroke="#444" stroke-width="1.3"/>
<line x1="1325.10" y1="957.40" x2="1325.10" y2="946.80" stroke="#444" stroke-width="1.3"/>
<line x1="1325.10" y1="479.90" x2="1325.10" y2="490.50" stroke="#444" stroke-width="1.3"/>
<rect x="109.5" y="2.4" width="1232.8" height="955.0" fill="none" stroke="#000" stroke-width="2.7"/>
<line x1="109.5" y1="479.9" x2="1342.3" y2="479.9" stroke="#000" stroke-width="2.7"/>
<text transform="translate(97.6,491.1) scale(1,1.045)" font-size="33.4" text-anchor="end">0</text>
<text transform="translate(97.6,286.2) scale(1,1.045)" font-size="33.4" text-anchor="end">30</text>
<text transform="translate(97.6,81.3) scale(1,1.045)" font-size="33.4" text-anchor="end">60</text>
<text transform="translate(97.6,968.6) scale(1,1.045)" font-size="33.4" text-anchor="end">0</text>
<text transform="translate(97.6,763.7) scale(1,1.045)" font-size="33.4" text-anchor="end">30</text>
<text transform="translate(97.6,558.8) scale(1,1.045)" font-size="33.4" text-anchor="end">60</text>
<text transform="translate(312.6,994) scale(1,1.045)" font-size="33.4" text-anchor="middle">5</text>
<text transform="translate(515.2,994) scale(1,1.045)" font-size="33.4" text-anchor="middle">10</text>
<text transform="translate(717.8,994) scale(1,1.045)" font-size="33.4" text-anchor="middle">15</text>
<text transform="translate(920.4,994) scale(1,1.045)" font-size="33.4" text-anchor="middle">20</text>
<text transform="translate(1123.0,994) scale(1,1.045)" font-size="33.4" text-anchor="middle">25</text>
<text transform="translate(1325.6,994) scale(1,1.045)" font-size="33.4" text-anchor="middle">30</text>
<text x="725.8" y="1046.5" font-size="33.4" text-anchor="middle"><tspan font-style="italic">z</tspan> (Å)</text>
<text transform="translate(32,289) rotate(-90)" font-size="33.4" text-anchor="middle"><tspan font-style="italic">ρ</tspan>(−<tspan font-style="italic">e</tspan>Å<tspan font-size="24.5" dy="-13.5">−1</tspan><tspan dy="13.5">)</tspan></text>
<text transform="translate(32,766) rotate(-90)" font-size="33.4" text-anchor="middle"><tspan font-style="italic">ρ</tspan>(−<tspan font-style="italic">e</tspan>Å<tspan font-size="24.5" dy="-13.5">−1</tspan><tspan dy="13.5">)</tspan></text>
<rect x="128.2" y="31.4" width="218.9" height="135.9" fill="#fff" stroke="#000" stroke-width="2.1"/>
<line x1="143.2" y1="60.3" x2="206.9" y2="60.3" stroke="#000" stroke-width="2.5"/>
<text x="218.5" y="69.9" font-size="29.4">PBE</text>
<line x1="143.2" y1="99.7" x2="206.9" y2="99.7" stroke="#e8362a" stroke-width="2.5"/>
<text x="218.5" y="109.3" font-size="29.4">HSE06</text>
<line x1="143.2" y1="139.1" x2="206.9" y2="139.1" stroke="#1a1aff" stroke-width="2.5"/>
<text x="218.5" y="148.7" font-size="29.4">EXX1.0</text>
<rect x="128.2" y="508.8" width="218.9" height="135.9" fill="#fff" stroke="#000" stroke-width="2.1"/>
<line x1="143.2" y1="537.7" x2="206.9" y2="537.7" stroke="#000" stroke-width="2.5"/>
<text x="218.5" y="547.3" font-size="29.4">PBE</text>
<line x1="143.2" y1="577.1" x2="206.9" y2="577.1" stroke="#e8362a" stroke-width="2.5"/>
<text x="218.5" y="586.7" font-size="29.4">HSE06</text>
<line x1="143.2" y1="616.5" x2="206.9" y2="616.5" stroke="#1a1aff" stroke-width="2.5"/>
<text x="218.5" y="626.1" font-size="29.4">EXX1.0</text>
<text x="840" y="71" font-size="33.4">Proton in outer Helmholtz plane</text>
<text x="840" y="548.0" font-size="33.4">Proton in third solvent layer</text>
</svg></body></html>
